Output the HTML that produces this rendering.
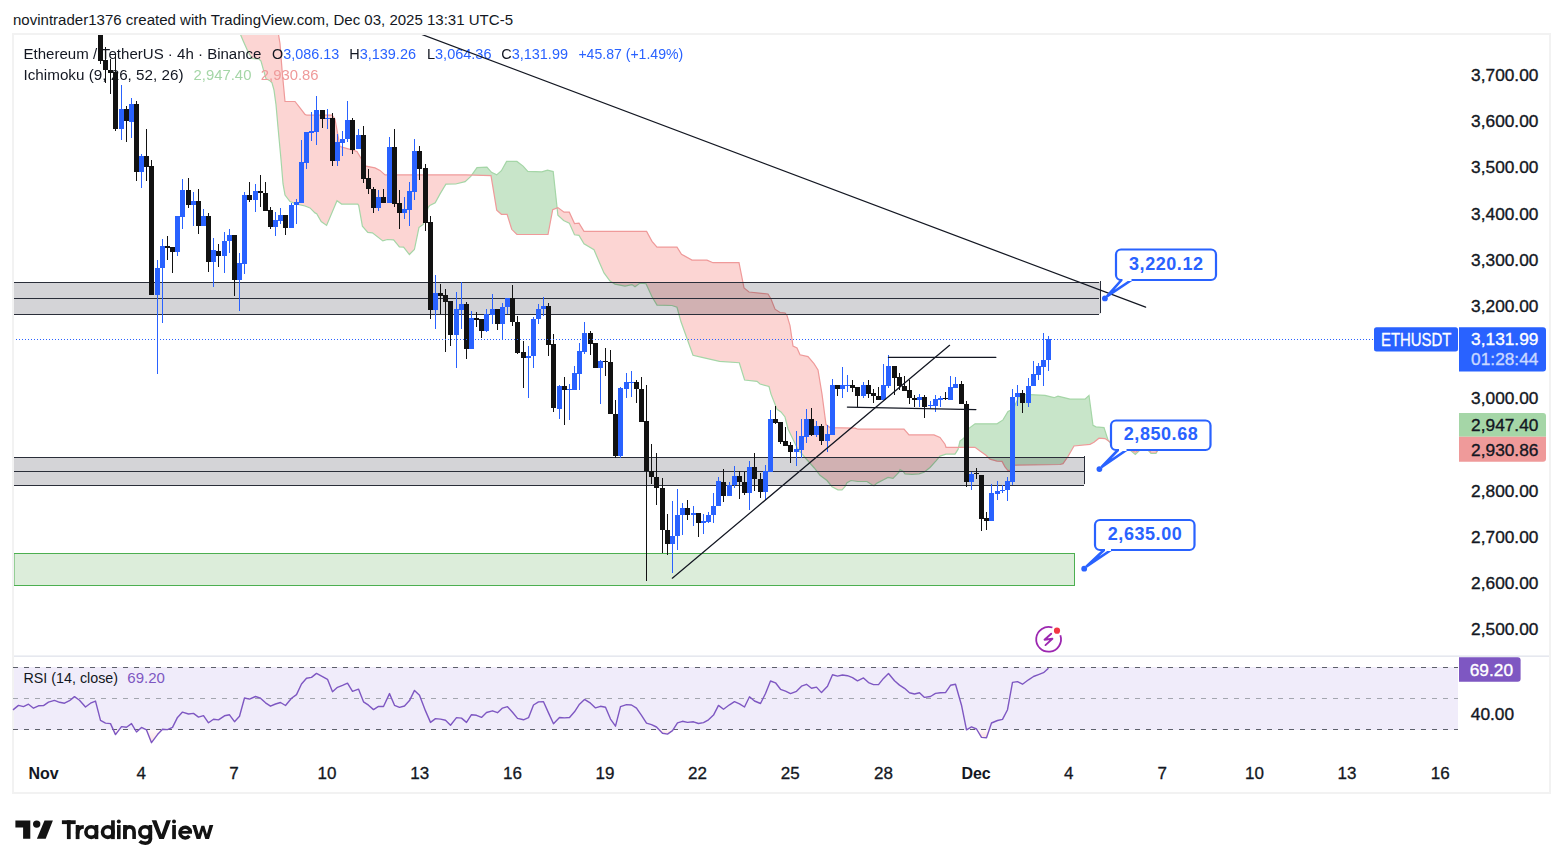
<!DOCTYPE html>
<html><head><meta charset="utf-8"><style>
html,body{margin:0;padding:0;background:#fff;width:1563px;height:868px;overflow:hidden}
svg{display:block}
text{font-family:"Liberation Sans",sans-serif}
</style></head><body>
<svg width="1563" height="868" viewBox="0 0 1563 868">
<rect x="0" y="0" width="1563" height="868" fill="#ffffff"/>
<text x="13" y="25" font-size="15.5" fill="#131722" textLength="500" lengthAdjust="spacingAndGlyphs">novintrader1376 created with TradingView.com, Dec 03, 2025 13:31 UTC-5</text>
<rect x="13" y="34" width="1537" height="759" fill="none" stroke="#f2f2f2" stroke-width="2"/>

<defs><linearGradient id="osg" x1="0" y1="0" x2="0" y2="1"><stop offset="0" stop-color="#f23645" stop-opacity="0.02"/><stop offset="1" stop-color="#f23645" stop-opacity="0.16"/></linearGradient><clipPath id="pane"><rect x="14" y="35" width="1444.5" height="621"/></clipPath></defs>
<g clip-path="url(#pane)">
<polygon points="240.5,34.5 241.0,34.5 241.0,35.7 240.5,34.5" fill="#c8e5c9"/>
<polygon points="241.0,34.5 241.5,34.5 242.0,34.5 242.5,34.5 243.0,34.5 243.5,34.5 244.0,34.5 244.5,34.5 245.0,34.5 245.5,34.5 246.0,34.5 246.5,34.5 247.0,34.5 247.5,34.5 248.0,34.5 248.5,34.5 249.0,34.5 249.5,34.5 250.0,34.5 250.5,34.5 251.0,34.5 251.5,34.5 252.0,34.5 252.5,34.5 253.0,34.5 253.5,34.5 254.0,34.5 254.5,34.5 255.0,34.5 255.5,34.5 256.0,34.5 256.5,34.5 257.0,34.5 257.5,34.5 258.0,34.5 258.5,34.5 259.0,34.5 259.5,34.5 260.0,34.5 260.5,34.5 261.0,34.5 261.5,34.5 262.0,34.5 262.5,34.5 263.0,34.5 263.5,34.5 264.0,34.5 264.5,34.5 265.0,34.5 265.5,34.5 266.0,34.5 266.5,34.5 267.0,34.5 267.5,34.5 268.0,34.5 268.5,34.5 269.0,34.5 269.5,34.5 270.0,34.5 270.5,34.5 271.0,34.5 271.5,34.5 272.0,34.5 272.5,34.5 273.0,34.5 273.5,34.5 274.0,34.5 274.5,34.5 275.0,34.5 275.5,34.5 276.0,34.5 276.5,34.5 277.0,34.5 277.5,34.5 278.0,34.5 278.5,34.5 279.0,37.5 279.5,40.5 280.0,43.5 280.5,50.0 281.0,56.5 281.5,62.9 282.0,69.4 282.5,74.8 283.0,80.1 283.5,85.5 284.0,90.8 284.5,96.2 285.0,101.5 285.5,101.5 286.0,101.5 286.5,101.5 287.0,101.5 287.5,101.5 288.0,101.5 288.5,101.5 289.0,101.5 289.5,101.5 290.0,101.5 290.5,101.5 291.0,101.5 291.5,101.5 292.0,101.5 292.5,101.5 293.0,101.5 293.5,101.5 294.0,101.5 294.5,101.5 295.0,101.5 295.5,102.1 296.0,102.8 296.5,103.4 297.0,104.1 297.5,104.7 298.0,105.3 298.5,106.0 299.0,106.6 299.5,107.3 300.0,107.9 300.5,108.6 301.0,109.2 301.5,109.9 302.0,110.5 302.5,111.2 303.0,111.8 303.5,112.5 304.0,113.1 304.5,113.8 305.0,114.4 305.5,114.6 306.0,114.8 306.5,115.0 307.0,115.2 307.5,115.2 308.0,115.2 308.5,115.2 309.0,115.2 309.5,115.2 310.0,115.2 310.5,115.2 311.0,115.2 311.5,115.2 312.0,115.2 312.5,115.2 313.0,115.2 313.5,115.2 314.0,115.2 314.5,115.2 315.0,115.2 315.5,115.2 316.0,115.2 316.5,115.2 317.0,115.2 317.5,115.2 318.0,115.2 318.5,115.2 319.0,115.2 319.5,115.2 320.0,115.2 320.5,115.2 321.0,115.2 321.5,115.2 322.0,115.2 322.5,115.2 323.0,115.2 323.5,115.2 324.0,115.2 324.5,115.2 325.0,115.2 325.5,115.2 326.0,115.2 326.5,115.2 327.0,115.2 327.5,115.2 328.0,115.2 328.5,115.2 329.0,115.2 329.5,115.2 330.0,115.2 330.5,115.2 331.0,115.2 331.5,115.2 332.0,115.2 332.5,115.9 333.0,116.5 333.5,117.2 334.0,117.9 334.5,118.5 335.0,119.2 335.5,121.9 336.0,124.7 336.5,127.4 337.0,130.2 337.5,132.9 338.0,135.6 338.5,138.4 339.0,141.1 339.5,143.9 340.0,146.6 340.5,146.7 341.0,146.9 341.5,147.0 342.0,147.2 342.5,147.3 343.0,147.4 343.5,147.6 344.0,147.7 344.5,147.9 345.0,148.0 345.5,148.1 346.0,148.3 346.5,148.4 347.0,148.6 347.5,148.7 348.0,148.8 348.5,149.0 349.0,149.1 349.5,149.3 350.0,149.4 350.5,149.6 351.0,149.7 351.5,149.8 352.0,150.0 352.5,150.2 353.0,150.3 353.5,150.4 354.0,150.6 354.5,150.8 355.0,150.9 355.5,151.1 356.0,151.2 356.5,151.3 357.0,151.5 357.5,152.3 358.0,153.2 358.5,154.1 359.0,154.9 359.5,155.8 360.0,156.6 360.5,157.4 361.0,158.3 361.5,159.2 362.0,160.0 362.5,160.8 363.0,161.5 363.5,162.3 364.0,163.1 364.5,163.8 365.0,164.6 365.5,165.3 366.0,166.1 366.5,166.2 367.0,166.3 367.5,166.4 368.0,166.5 368.5,166.6 369.0,166.7 369.5,166.8 370.0,166.9 370.5,167.0 371.0,167.1 371.5,167.2 372.0,167.3 372.5,167.4 373.0,167.5 373.5,167.6 374.0,167.7 374.5,167.8 375.0,167.9 375.5,168.2 376.0,168.4 376.5,168.7 377.0,168.9 377.5,169.2 378.0,169.4 378.5,169.7 379.0,169.9 379.5,170.2 380.0,170.4 380.5,170.8 381.0,171.3 381.5,171.8 382.0,172.2 382.5,172.7 383.0,173.1 383.5,173.6 384.0,174.0 384.5,174.5 385.0,174.9 385.5,174.9 386.0,174.9 386.5,174.9 387.0,174.9 387.5,174.9 388.0,174.9 388.5,174.9 389.0,174.9 389.5,174.9 390.0,174.9 390.5,174.9 391.0,174.9 391.5,174.9 392.0,174.9 392.5,174.9 393.0,174.9 393.5,174.9 394.0,174.9 394.5,174.9 395.0,174.9 395.5,174.9 396.0,174.9 396.5,174.9 397.0,174.9 397.5,174.9 398.0,174.9 398.5,174.9 399.0,174.9 399.5,174.9 400.0,174.9 400.5,174.9 401.0,174.9 401.5,174.9 402.0,174.9 402.5,174.9 403.0,174.9 403.5,174.9 404.0,174.9 404.5,174.9 405.0,174.9 405.5,174.9 406.0,174.9 406.5,174.9 407.0,174.9 407.5,174.9 408.0,174.9 408.5,174.9 409.0,174.9 409.5,174.9 410.0,174.9 410.5,174.9 411.0,174.9 411.5,174.9 412.0,174.9 412.5,174.9 413.0,174.9 413.5,174.9 414.0,174.9 414.5,174.9 415.0,174.9 415.5,174.9 416.0,174.9 416.5,174.9 417.0,174.9 417.5,174.9 418.0,174.9 418.5,174.9 419.0,174.9 419.5,174.9 420.0,174.9 420.5,174.9 421.0,174.9 421.5,174.9 422.0,174.9 422.5,174.9 423.0,174.9 423.5,174.9 424.0,174.9 424.5,174.9 425.0,174.9 425.5,174.9 426.0,174.9 426.5,174.9 427.0,174.9 427.5,174.9 428.0,174.9 428.5,174.9 429.0,174.9 429.5,174.9 430.0,174.9 430.5,174.9 431.0,174.9 431.5,174.9 432.0,174.9 432.5,174.9 433.0,174.9 433.5,174.9 434.0,174.9 434.5,174.9 435.0,174.9 435.5,174.9 436.0,174.9 436.5,174.9 437.0,174.9 437.5,174.9 438.0,174.9 438.5,174.9 439.0,174.9 439.5,174.9 440.0,174.9 440.5,174.9 441.0,174.9 441.5,174.9 442.0,174.9 442.5,174.9 443.0,174.9 443.5,174.9 444.0,174.9 444.5,174.9 445.0,174.9 445.5,174.9 446.0,174.9 446.5,174.9 447.0,174.9 447.5,174.9 448.0,174.9 448.5,174.9 449.0,174.9 449.5,174.9 450.0,174.9 450.5,174.9 451.0,174.9 451.5,174.9 452.0,174.9 452.5,174.9 453.0,174.9 453.5,174.9 454.0,174.9 454.5,174.9 455.0,174.9 455.5,174.9 456.0,174.9 456.5,174.9 457.0,174.9 457.5,174.9 458.0,174.9 458.5,174.9 459.0,174.9 459.5,174.9 460.0,174.9 460.5,174.9 461.0,174.9 461.5,174.9 462.0,174.9 462.5,174.9 463.0,174.9 463.5,174.9 464.0,174.9 464.5,174.9 465.0,174.9 465.5,174.9 466.0,174.9 466.5,174.9 467.0,174.9 467.5,174.9 468.0,175.0 468.5,175.0 469.0,175.0 469.5,175.0 470.0,175.0 470.5,175.0 471.0,175.1 471.5,175.1 472.0,174.7 472.0,175.1 471.5,175.4 471.0,176.1 470.5,176.7 470.0,177.1 469.5,177.6 469.0,178.0 468.5,178.5 468.0,179.0 467.5,179.4 467.0,179.9 466.5,180.3 466.0,180.8 465.5,181.2 465.0,181.6 464.5,181.8 464.0,181.9 463.5,182.0 463.0,182.1 462.5,182.3 462.0,182.4 461.5,182.5 461.0,182.6 460.5,182.8 460.0,182.9 459.5,183.0 459.0,183.2 458.5,183.3 458.0,183.4 457.5,183.5 457.0,183.7 456.5,183.8 456.0,183.9 455.5,184.0 455.0,184.0 454.5,184.0 454.0,184.0 453.5,184.0 453.0,184.1 452.5,184.1 452.0,184.1 451.5,184.1 451.0,184.1 450.5,184.1 450.0,184.1 449.5,184.1 449.0,184.1 448.5,184.1 448.0,184.2 447.5,184.2 447.0,184.2 446.5,184.2 446.0,184.2 445.5,184.9 445.0,185.7 444.5,186.5 444.0,187.3 443.5,188.2 443.0,189.0 442.5,189.8 442.0,190.6 441.5,191.5 441.0,192.3 440.5,193.1 440.0,194.0 439.5,194.9 439.0,195.8 438.5,196.8 438.0,197.7 437.5,198.6 437.0,199.6 436.5,200.5 436.0,201.4 435.5,202.3 435.0,203.0 434.5,203.2 434.0,203.5 433.5,203.7 433.0,203.9 432.5,204.2 432.0,204.4 431.5,204.6 431.0,204.8 430.5,205.1 430.0,205.3 429.5,205.8 429.0,206.4 428.5,207.0 428.0,207.8 427.5,209.6 427.0,211.3 426.5,213.1 426.0,214.8 425.5,216.5 425.0,218.3 424.5,220.0 424.0,221.7 423.5,223.5 423.0,224.6 422.5,225.0 422.0,225.3 421.5,225.7 421.0,226.0 420.5,226.4 420.0,226.7 419.5,227.1 419.0,227.4 418.5,229.8 418.0,232.2 417.5,234.6 417.0,237.0 416.5,239.4 416.0,241.8 415.5,244.2 415.0,246.6 414.5,249.0 414.0,249.9 413.5,250.4 413.0,250.9 412.5,251.4 412.0,251.9 411.5,252.4 411.0,252.9 410.5,253.4 410.0,253.9 409.5,254.4 409.0,254.0 408.5,253.4 408.0,252.7 407.5,252.1 407.0,251.5 406.5,250.8 406.0,250.2 405.5,249.6 405.0,249.0 404.5,248.3 404.0,247.7 403.5,247.2 403.0,247.2 402.5,247.1 402.0,247.1 401.5,247.1 401.0,247.1 400.5,247.1 400.0,247.0 399.5,247.0 399.0,246.5 398.5,245.9 398.0,245.3 397.5,244.7 397.0,244.1 396.5,243.4 396.0,242.8 395.5,242.2 395.0,241.6 394.5,241.0 394.0,240.4 393.5,239.9 393.0,239.9 392.5,239.8 392.0,239.8 391.5,239.8 391.0,239.7 390.5,239.7 390.0,239.7 389.5,239.6 389.0,239.6 388.5,239.6 388.0,239.5 387.5,239.5 387.0,239.6 386.5,239.8 386.0,239.9 385.5,240.1 385.0,240.2 384.5,240.4 384.0,240.5 383.5,240.7 383.0,240.8 382.5,240.7 382.0,240.3 381.5,239.9 381.0,239.5 380.5,239.1 380.0,238.7 379.5,238.3 379.0,237.9 378.5,237.6 378.0,237.2 377.5,236.8 377.0,236.4 376.5,236.0 376.0,235.6 375.5,235.2 375.0,234.8 374.5,234.4 374.0,234.0 373.5,233.7 373.0,233.3 372.5,232.9 372.0,232.8 371.5,232.7 371.0,232.7 370.5,232.6 370.0,232.6 369.5,232.5 369.0,232.5 368.5,232.5 368.0,232.4 367.5,232.1 367.0,231.5 366.5,230.9 366.0,230.3 365.5,229.8 365.0,229.2 364.5,228.6 364.0,228.0 363.5,227.5 363.0,226.9 362.5,226.3 362.0,224.0 361.5,221.1 361.0,218.3 360.5,215.5 360.0,212.7 359.5,209.9 359.0,207.1 358.5,205.1 358.0,204.4 357.5,204.1 357.0,204.1 356.5,204.1 356.0,204.1 355.5,204.1 355.0,204.1 354.5,204.1 354.0,204.1 353.5,204.1 353.0,204.1 352.5,204.1 352.0,204.1 351.5,204.1 351.0,204.1 350.5,204.1 350.0,204.1 349.5,204.1 349.0,204.1 348.5,204.1 348.0,204.1 347.5,204.1 347.0,204.1 346.5,204.1 346.0,204.1 345.5,204.1 345.0,204.1 344.5,204.1 344.0,204.1 343.5,204.1 343.0,204.1 342.5,204.1 342.0,204.1 341.5,204.0 341.0,203.7 340.5,203.3 340.0,203.0 339.5,202.6 339.0,202.2 338.5,201.9 338.0,201.5 337.5,201.2 337.0,200.8 336.5,202.0 336.0,203.2 335.5,204.3 335.0,205.5 334.5,206.7 334.0,207.9 333.5,209.1 333.0,210.3 332.5,211.4 332.0,212.6 331.5,213.8 331.0,215.0 330.5,216.2 330.0,217.4 329.5,218.5 329.0,219.7 328.5,220.9 328.0,222.1 327.5,223.3 327.0,224.5 326.5,225.3 326.0,225.0 325.5,224.6 325.0,224.3 324.5,223.9 324.0,223.6 323.5,223.2 323.0,222.9 322.5,222.5 322.0,222.2 321.5,221.8 321.0,221.2 320.5,220.4 320.0,219.5 319.5,218.6 319.0,217.7 318.5,216.9 318.0,216.0 317.5,215.1 317.0,214.2 316.5,213.6 316.0,213.4 315.5,213.1 315.0,212.9 314.5,212.4 314.0,211.9 313.5,211.4 313.0,210.9 312.5,210.4 312.0,209.9 311.5,209.4 311.0,208.9 310.5,208.4 310.0,207.9 309.5,207.7 309.0,207.5 308.5,207.3 308.0,207.1 307.5,206.9 307.0,206.8 306.5,206.6 306.0,206.4 305.5,206.2 305.0,206.0 304.5,205.9 304.0,205.8 303.5,205.7 303.0,205.5 302.5,205.4 302.0,205.3 301.5,205.2 301.0,205.1 300.5,204.9 300.0,204.8 299.5,204.7 299.0,204.6 298.5,204.5 298.0,204.4 297.5,204.2 297.0,204.1 296.5,204.0 296.0,203.9 295.5,203.7 295.0,203.5 294.5,203.3 294.0,203.1 293.5,202.9 293.0,202.7 292.5,202.5 292.0,202.3 291.5,202.1 291.0,201.9 290.5,201.7 290.0,201.5 289.5,200.8 289.0,200.2 288.5,199.6 288.0,198.9 287.5,198.2 287.0,197.6 286.5,196.9 286.0,196.3 285.5,195.7 285.0,195.0 284.5,192.2 284.0,189.3 283.5,186.5 283.0,183.7 282.5,177.6 282.0,171.6 281.5,165.6 281.0,159.5 280.5,154.1 280.0,148.8 279.5,143.4 279.0,138.0 278.5,132.7 278.0,127.3 277.5,121.7 277.0,116.0 276.5,110.3 276.0,104.7 275.5,101.0 275.0,97.4 274.5,93.8 274.0,90.1 273.5,88.3 273.0,86.4 272.5,84.6 272.0,82.8 271.5,82.3 271.0,81.8 270.5,81.3 270.0,80.8 269.5,80.5 269.0,80.3 268.5,80.0 268.0,79.8 267.5,79.5 267.0,79.2 266.5,79.0 266.0,78.7 265.5,77.0 265.0,75.2 264.5,73.5 264.0,71.8 263.5,70.0 263.0,68.3 262.5,66.5 262.0,64.7 261.5,62.9 261.0,61.1 260.5,60.6 260.0,60.0 259.5,59.5 259.0,59.0 258.5,59.0 258.0,58.9 257.5,58.9 257.0,58.9 256.5,58.8 256.0,58.8 255.5,58.8 255.0,58.7 254.5,58.7 254.0,58.6 253.5,58.6 253.0,58.6 252.5,58.5 252.0,58.5 251.5,57.7 251.0,56.8 250.5,56.0 250.0,55.1 249.5,54.3 249.0,53.5 248.5,52.6 248.0,51.8 247.5,50.7 247.0,49.5 246.5,48.4 246.0,47.2 245.5,46.1 245.0,45.0 244.5,43.8 244.0,42.7 243.5,41.5 243.0,40.4 242.5,39.2 242.0,38.0 241.5,36.9 241.0,35.7" fill="#fcd5d3"/>
<polygon points="472.0,174.7 472.5,174.0 473.0,173.3 473.5,172.6 474.0,171.9 474.5,171.1 475.0,170.4 475.5,169.7 476.0,169.0 476.5,168.3 477.0,167.6 477.5,167.6 478.0,167.5 478.5,167.5 479.0,167.5 479.5,167.5 480.0,167.4 480.5,167.4 481.0,167.4 481.5,167.4 482.0,167.3 482.5,167.3 483.0,167.3 483.5,167.3 484.0,167.2 484.5,167.2 485.0,167.2 485.5,167.2 486.0,167.1 486.5,167.1 487.0,167.2 487.5,167.8 488.0,168.3 488.5,168.9 489.0,169.5 489.5,170.0 490.0,170.6 490.5,171.2 491.0,171.7 491.5,172.3 492.0,172.6 492.5,172.8 493.0,173.1 493.5,173.3 494.0,173.6 494.5,173.8 495.0,174.1 495.5,174.3 496.0,174.6 496.5,174.8 497.0,174.6 497.5,174.2 498.0,173.7 498.5,173.3 499.0,172.8 499.5,172.4 500.0,172.0 500.5,171.5 501.0,171.1 501.5,170.5 502.0,169.6 502.5,168.7 503.0,167.8 503.5,166.9 504.0,166.1 504.5,165.2 505.0,164.3 505.5,163.4 506.0,162.5 506.5,161.6 507.0,161.4 507.5,161.4 508.0,161.4 508.5,161.4 509.0,161.4 509.5,161.4 510.0,161.4 510.5,161.4 511.0,161.4 511.5,161.4 512.0,161.4 512.5,161.4 513.0,161.4 513.5,161.4 514.0,161.4 514.5,161.4 515.0,161.4 515.5,161.4 516.0,161.4 516.5,161.4 517.0,161.5 517.5,161.9 518.0,162.2 518.5,162.6 519.0,163.0 519.5,163.4 520.0,163.8 520.5,164.1 521.0,164.5 521.5,164.9 522.0,165.3 522.5,165.6 523.0,166.0 523.5,166.5 524.0,167.1 524.5,167.6 525.0,168.2 525.5,168.8 526.0,169.3 526.5,169.9 527.0,170.4 527.5,171.0 528.0,171.3 528.5,171.3 529.0,171.3 529.5,171.4 530.0,171.4 530.5,171.4 531.0,171.4 531.5,171.4 532.0,171.5 532.5,171.5 533.0,171.5 533.5,171.5 534.0,171.5 534.5,171.5 535.0,171.6 535.5,171.6 536.0,171.6 536.5,171.6 537.0,171.6 537.5,171.6 538.0,171.7 538.5,171.7 539.0,171.7 539.5,171.7 540.0,171.7 540.5,171.8 541.0,171.8 541.5,171.8 542.0,171.7 542.5,171.6 543.0,171.5 543.5,171.3 544.0,171.2 544.5,171.0 545.0,170.9 545.5,170.8 546.0,170.6 546.5,170.5 547.0,170.3 547.5,170.2 548.0,170.3 548.5,170.4 549.0,170.6 549.5,170.7 550.0,170.8 550.5,170.9 551.0,171.1 551.5,171.2 552.0,171.3 552.5,171.4 553.0,171.6 553.5,174.4 554.0,179.0 554.5,183.7 555.0,188.3 555.5,193.0 556.0,197.6 556.5,202.3 557.0,206.9 557.5,207.8 557.5,211.6 557.0,207.9 556.5,208.1 556.0,208.3 555.5,208.5 555.0,208.7 554.5,208.9 554.0,209.1 553.5,209.3 553.0,209.5 552.5,210.7 552.0,213.3 551.5,216.0 551.0,218.6 550.5,221.3 550.0,223.9 549.5,226.6 549.0,229.2 548.5,231.9 548.0,234.5 547.5,234.5 547.0,234.5 546.5,234.5 546.0,234.5 545.5,234.5 545.0,234.5 544.5,234.5 544.0,234.5 543.5,234.5 543.0,234.5 542.5,234.5 542.0,234.5 541.5,234.5 541.0,234.5 540.5,234.5 540.0,234.5 539.5,234.5 539.0,234.5 538.5,234.5 538.0,234.5 537.5,234.5 537.0,234.5 536.5,234.5 536.0,234.5 535.5,234.5 535.0,234.5 534.5,234.5 534.0,234.5 533.5,234.5 533.0,234.5 532.5,234.5 532.0,234.5 531.5,234.5 531.0,234.5 530.5,234.5 530.0,234.5 529.5,234.5 529.0,234.5 528.5,234.5 528.0,234.5 527.5,234.5 527.0,234.5 526.5,234.5 526.0,234.5 525.5,234.5 525.0,234.5 524.5,234.5 524.0,234.5 523.5,234.5 523.0,234.5 522.5,234.5 522.0,234.5 521.5,234.5 521.0,234.5 520.5,234.5 520.0,234.5 519.5,234.5 519.0,234.5 518.5,234.5 518.0,234.5 517.5,234.5 517.0,234.5 516.5,234.1 516.0,233.6 515.5,233.1 515.0,232.6 514.5,232.1 514.0,231.6 513.5,231.1 513.0,230.6 512.5,230.1 512.0,229.6 511.5,228.6 511.0,227.0 510.5,225.4 510.0,223.8 509.5,222.1 509.0,220.5 508.5,218.9 508.0,217.2 507.5,215.6 507.0,214.3 506.5,214.3 506.0,214.3 505.5,214.3 505.0,214.3 504.5,214.3 504.0,214.3 503.5,214.3 503.0,214.3 502.5,214.3 502.0,214.3 501.5,214.3 501.0,213.9 500.5,213.5 500.0,213.0 499.5,212.6 499.0,212.2 498.5,211.7 498.0,211.3 497.5,210.8 497.0,210.4 496.5,208.9 496.0,205.9 495.5,202.9 495.0,199.8 494.5,196.8 494.0,193.8 493.5,190.8 493.0,187.8 492.5,184.8 492.0,181.7 491.5,178.7 491.0,175.7 490.5,175.7 490.0,175.7 489.5,175.7 489.0,175.6 488.5,175.6 488.0,175.6 487.5,175.6 487.0,175.6 486.5,175.6 486.0,175.5 485.5,175.5 485.0,175.5 484.5,175.5 484.0,175.5 483.5,175.5 483.0,175.4 482.5,175.4 482.0,175.4 481.5,175.4 481.0,175.4 480.5,175.4 480.0,175.3 479.5,175.3 479.0,175.3 478.5,175.3 478.0,175.3 477.5,175.3 477.0,175.3 476.5,175.2 476.0,175.2 475.5,175.2 475.0,175.2 474.5,175.2 474.0,175.2 473.5,175.1 473.0,175.1 472.5,175.1 472.0,175.1" fill="#c8e5c9"/>
<polygon points="557.5,207.8 558.0,207.7 558.5,208.0 559.0,208.4 559.5,208.8 560.0,209.2 560.5,209.5 561.0,209.9 561.5,210.3 562.0,210.6 562.5,211.0 563.0,211.4 563.5,211.8 564.0,212.1 564.5,212.2 565.0,212.2 565.5,212.2 566.0,212.2 566.5,212.2 567.0,212.2 567.5,212.2 568.0,212.2 568.5,212.2 569.0,212.2 569.5,212.6 570.0,213.7 570.5,214.8 571.0,215.9 571.5,217.0 572.0,218.1 572.5,219.2 573.0,220.3 573.5,221.4 574.0,222.5 574.5,223.6 575.0,223.6 575.5,223.5 576.0,223.5 576.5,223.4 577.0,223.4 577.5,223.3 578.0,223.3 578.5,223.2 579.0,223.2 579.5,224.0 580.0,224.8 580.5,225.7 581.0,226.5 581.5,227.3 582.0,228.1 582.5,228.9 583.0,229.8 583.5,230.6 584.0,231.4 584.5,231.4 585.0,231.4 585.5,231.4 586.0,231.4 586.5,231.4 587.0,231.4 587.5,231.4 588.0,231.4 588.5,231.4 589.0,231.4 589.5,231.4 590.0,231.4 590.5,231.4 591.0,231.4 591.5,231.4 592.0,231.4 592.5,231.4 593.0,231.4 593.5,231.4 594.0,231.4 594.5,231.4 595.0,231.4 595.5,231.4 596.0,231.4 596.5,231.4 597.0,231.4 597.5,231.4 598.0,231.4 598.5,231.4 599.0,231.4 599.5,231.4 600.0,231.4 600.5,231.4 601.0,231.4 601.5,231.4 602.0,231.4 602.5,231.4 603.0,231.4 603.5,231.4 604.0,231.4 604.5,231.4 605.0,231.4 605.5,231.4 606.0,231.4 606.5,231.4 607.0,231.4 607.5,231.4 608.0,231.4 608.5,231.4 609.0,231.4 609.5,231.4 610.0,231.4 610.5,231.4 611.0,231.4 611.5,231.4 612.0,231.4 612.5,231.4 613.0,231.4 613.5,231.4 614.0,231.4 614.5,231.4 615.0,231.4 615.5,231.4 616.0,231.4 616.5,231.4 617.0,231.4 617.5,231.4 618.0,231.4 618.5,231.4 619.0,231.4 619.5,231.4 620.0,231.4 620.5,231.4 621.0,231.4 621.5,231.4 622.0,231.4 622.5,231.4 623.0,231.4 623.5,231.4 624.0,231.4 624.5,231.4 625.0,231.4 625.5,231.4 626.0,231.4 626.5,231.4 627.0,231.4 627.5,231.4 628.0,231.4 628.5,231.4 629.0,231.4 629.5,231.4 630.0,231.4 630.5,231.4 631.0,231.4 631.5,231.4 632.0,231.4 632.5,231.4 633.0,231.4 633.5,231.4 634.0,231.4 634.5,231.4 635.0,231.4 635.5,231.4 636.0,231.4 636.5,231.4 637.0,231.4 637.5,231.4 638.0,231.4 638.5,231.4 639.0,231.4 639.5,231.4 640.0,231.4 640.5,231.4 641.0,231.4 641.5,231.4 642.0,231.4 642.5,231.4 643.0,231.4 643.5,231.4 644.0,231.4 644.5,231.4 645.0,231.4 645.5,231.4 646.0,231.4 646.5,231.4 647.0,232.1 647.5,233.1 648.0,234.0 648.5,234.9 649.0,235.8 649.5,236.8 650.0,237.7 650.5,238.6 651.0,239.5 651.5,240.5 652.0,241.4 652.5,242.0 653.0,242.5 653.5,243.1 654.0,243.7 654.5,244.2 655.0,244.8 655.5,245.4 656.0,246.0 656.5,246.5 657.0,247.1 657.5,247.1 658.0,247.1 658.5,247.1 659.0,247.1 659.5,247.1 660.0,247.1 660.5,247.1 661.0,247.1 661.5,247.1 662.0,247.1 662.5,247.1 663.0,247.1 663.5,247.1 664.0,247.1 664.5,247.1 665.0,247.1 665.5,247.1 666.0,247.1 666.5,247.1 667.0,247.1 667.5,247.1 668.0,247.1 668.5,247.1 669.0,247.1 669.5,247.1 670.0,247.1 670.5,247.1 671.0,247.1 671.5,247.1 672.0,247.1 672.5,247.1 673.0,247.1 673.5,247.1 674.0,247.1 674.5,247.1 675.0,247.1 675.5,247.1 676.0,247.1 676.5,247.1 677.0,247.1 677.5,247.9 678.0,248.7 678.5,249.5 679.0,250.3 679.5,251.0 680.0,251.8 680.5,252.6 681.0,253.4 681.5,254.2 682.0,254.5 682.5,254.8 683.0,255.0 683.5,255.3 684.0,255.6 684.5,255.9 685.0,256.2 685.5,256.4 686.0,256.7 686.5,257.0 687.0,257.3 687.5,257.6 688.0,257.9 688.5,258.1 689.0,258.4 689.5,258.7 690.0,259.0 690.5,259.3 691.0,259.5 691.5,259.8 692.0,260.1 692.5,260.1 693.0,260.1 693.5,260.1 694.0,260.1 694.5,260.1 695.0,260.1 695.5,260.1 696.0,260.1 696.5,260.1 697.0,260.1 697.5,260.1 698.0,260.1 698.5,260.1 699.0,260.1 699.5,260.1 700.0,260.1 700.5,260.1 701.0,260.1 701.5,260.1 702.0,260.1 702.5,260.1 703.0,260.1 703.5,260.1 704.0,260.1 704.5,260.1 705.0,260.1 705.5,260.1 706.0,260.1 706.5,260.1 707.0,260.1 707.5,260.3 708.0,260.5 708.5,260.8 709.0,261.0 709.5,261.2 710.0,261.4 710.5,261.6 711.0,261.8 711.5,262.1 712.0,262.3 712.5,262.5 713.0,262.7 713.5,262.7 714.0,262.7 714.5,262.7 715.0,262.7 715.5,262.7 716.0,262.7 716.5,262.7 717.0,262.7 717.5,262.7 718.0,262.7 718.5,262.7 719.0,262.7 719.5,262.7 720.0,262.7 720.5,262.7 721.0,262.7 721.5,262.7 722.0,262.7 722.5,262.7 723.0,262.7 723.5,262.7 724.0,262.7 724.5,262.7 725.0,262.7 725.5,262.7 726.0,262.7 726.5,262.7 727.0,262.7 727.5,262.7 728.0,262.7 728.5,262.7 729.0,262.7 729.5,262.7 730.0,262.7 730.5,262.7 731.0,262.7 731.5,262.7 732.0,262.7 732.5,262.7 733.0,262.7 733.5,262.7 734.0,262.7 734.5,262.7 735.0,262.7 735.5,262.7 736.0,262.7 736.5,262.7 737.0,262.7 737.5,262.7 738.0,262.7 738.5,262.7 739.0,262.7 739.5,265.2 740.0,267.7 740.5,270.3 741.0,272.8 741.5,275.3 742.0,277.8 742.5,280.3 743.0,282.9 743.5,285.4 744.0,287.9 744.5,288.3 745.0,288.7 745.5,289.1 746.0,289.5 746.5,289.9 747.0,290.4 747.5,290.8 748.0,291.2 748.5,291.6 749.0,292.0 749.5,292.1 750.0,292.1 750.5,292.2 751.0,292.2 751.5,292.3 752.0,292.3 752.5,292.4 753.0,292.4 753.5,292.5 754.0,292.5 754.5,292.6 755.0,292.6 755.5,292.7 756.0,292.7 756.5,292.8 757.0,292.8 757.5,292.9 758.0,292.9 758.5,293.0 759.0,293.1 759.5,293.1 760.0,293.2 760.5,293.2 761.0,293.3 761.5,293.3 762.0,293.4 762.5,293.4 763.0,293.5 763.5,293.5 764.0,293.6 764.5,293.6 765.0,293.7 765.5,293.7 766.0,293.8 766.5,293.8 767.0,293.9 767.5,293.9 768.0,294.0 768.5,294.8 769.0,295.7 769.5,296.5 770.0,297.3 770.5,298.2 771.0,299.0 771.5,300.3 772.0,301.6 772.5,302.8 773.0,304.1 773.5,305.4 774.0,306.6 774.5,307.9 775.0,309.2 775.5,309.5 776.0,309.9 776.5,310.2 777.0,310.5 777.5,310.9 778.0,311.2 778.5,311.5 779.0,311.8 779.5,312.2 780.0,312.5 780.5,312.6 781.0,312.6 781.5,312.6 782.0,312.7 782.5,312.8 783.0,312.8 783.5,312.9 784.0,312.9 784.5,312.9 785.0,313.0 785.5,313.6 786.0,314.2 786.5,314.9 787.0,315.5 787.5,317.2 788.0,318.9 788.5,320.6 789.0,322.2 789.5,323.9 790.0,325.6 790.5,329.0 791.0,332.4 791.5,335.8 792.0,339.2 792.5,342.6 793.0,346.0 793.5,346.2 794.0,346.5 794.5,346.8 795.0,347.0 795.5,347.2 796.0,347.5 796.5,347.8 797.0,348.0 797.5,349.1 798.0,350.3 798.5,351.4 799.0,352.5 799.5,353.7 800.0,354.8 800.5,354.9 801.0,355.0 801.5,355.1 802.0,355.2 802.5,355.4 803.0,355.5 803.5,355.6 804.0,355.7 804.5,355.8 805.0,355.9 805.5,356.0 806.0,356.2 806.5,356.3 807.0,356.4 807.5,356.5 808.0,356.6 808.5,357.2 809.0,357.8 809.5,358.4 810.0,359.0 810.5,359.6 811.0,360.1 811.5,360.7 812.0,361.3 812.5,361.9 813.0,362.5 813.5,363.1 814.0,363.7 814.5,364.5 815.0,365.3 815.5,366.1 816.0,366.9 816.5,367.6 817.0,368.4 817.5,369.2 818.0,370.0 818.5,373.0 819.0,376.0 819.5,379.0 820.0,382.1 820.5,385.1 821.0,388.1 821.5,391.1 822.0,394.1 822.5,397.9 823.0,401.7 823.5,405.5 824.0,409.4 824.5,413.2 825.0,417.0 825.5,420.8 826.0,424.6 826.5,425.0 827.0,425.4 827.5,425.7 828.0,426.1 828.5,426.5 829.0,426.9 829.5,427.2 830.0,427.6 830.5,427.6 831.0,427.6 831.5,427.6 832.0,427.6 832.5,427.7 833.0,427.7 833.5,427.7 834.0,427.7 834.5,427.7 835.0,427.7 835.5,427.7 836.0,427.7 836.5,427.7 837.0,427.7 837.5,427.8 838.0,427.8 838.5,427.8 839.0,427.8 839.5,427.8 840.0,427.8 840.5,427.8 841.0,427.8 841.5,427.8 842.0,427.8 842.5,427.9 843.0,427.9 843.5,427.9 844.0,427.9 844.5,427.9 845.0,427.9 845.5,427.9 846.0,427.9 846.5,427.9 847.0,427.9 847.5,428.0 848.0,428.0 848.5,428.0 849.0,428.0 849.5,428.0 850.0,428.0 850.5,428.0 851.0,428.0 851.5,428.0 852.0,428.0 852.5,428.1 853.0,428.1 853.5,428.1 854.0,428.1 854.5,428.1 855.0,428.1 855.5,428.3 856.0,428.5 856.5,428.6 857.0,428.8 857.5,429.0 858.0,429.2 858.5,429.2 859.0,429.2 859.5,429.2 860.0,429.2 860.5,429.2 861.0,429.2 861.5,429.2 862.0,429.2 862.5,429.2 863.0,429.2 863.5,429.2 864.0,429.2 864.5,429.2 865.0,429.2 865.5,429.2 866.0,429.2 866.5,429.2 867.0,429.2 867.5,429.2 868.0,429.2 868.5,429.2 869.0,429.2 869.5,429.2 870.0,429.2 870.5,429.2 871.0,429.2 871.5,429.2 872.0,429.2 872.5,429.2 873.0,429.2 873.5,429.2 874.0,429.2 874.5,429.2 875.0,429.2 875.5,429.2 876.0,429.2 876.5,429.2 877.0,429.2 877.5,429.2 878.0,429.2 878.5,429.2 879.0,429.2 879.5,429.2 880.0,429.2 880.5,429.2 881.0,429.2 881.5,429.2 882.0,429.2 882.5,429.2 883.0,429.2 883.5,429.2 884.0,429.2 884.5,429.2 885.0,429.2 885.5,429.2 886.0,429.2 886.5,429.2 887.0,429.2 887.5,429.2 888.0,429.2 888.5,429.2 889.0,429.2 889.5,429.2 890.0,429.2 890.5,429.2 891.0,429.2 891.5,429.2 892.0,429.2 892.5,429.2 893.0,429.2 893.5,429.2 894.0,429.2 894.5,429.2 895.0,429.2 895.5,429.2 896.0,429.2 896.5,429.2 897.0,429.2 897.5,429.2 898.0,429.2 898.5,429.2 899.0,429.2 899.5,429.2 900.0,429.2 900.5,429.2 901.0,429.2 901.5,429.2 902.0,429.2 902.5,429.2 903.0,429.2 903.5,429.2 904.0,429.2 904.5,429.8 905.0,430.3 905.5,430.9 906.0,431.5 906.5,432.0 907.0,432.6 907.5,433.2 908.0,433.8 908.5,434.3 909.0,434.9 909.5,434.9 910.0,434.9 910.5,434.9 911.0,434.9 911.5,434.9 912.0,434.9 912.5,434.9 913.0,434.9 913.5,434.9 914.0,434.9 914.5,434.9 915.0,434.9 915.5,434.9 916.0,434.9 916.5,434.9 917.0,434.9 917.5,434.9 918.0,434.9 918.5,434.9 919.0,434.9 919.5,434.9 920.0,434.9 920.5,434.9 921.0,434.9 921.5,434.9 922.0,434.9 922.5,434.9 923.0,434.9 923.5,434.9 924.0,434.9 924.5,434.9 925.0,434.9 925.5,434.9 926.0,434.9 926.5,434.9 927.0,434.9 927.5,434.9 928.0,434.9 928.5,434.9 929.0,434.9 929.5,434.9 930.0,434.9 930.5,434.9 931.0,434.9 931.5,434.9 932.0,434.9 932.5,434.9 933.0,434.9 933.5,434.9 934.0,434.9 934.5,435.1 935.0,435.3 935.5,435.5 936.0,435.8 936.5,436.0 937.0,436.2 937.5,436.4 938.0,436.6 938.5,436.9 939.0,437.1 939.5,437.3 940.0,437.5 940.5,438.2 941.0,438.8 941.5,439.5 942.0,440.2 942.5,440.9 943.0,441.5 943.5,442.2 944.0,442.9 944.5,443.5 945.0,444.2 945.5,445.8 946.0,447.3 946.5,447.3 947.0,447.3 947.5,447.3 948.0,447.3 948.5,447.3 949.0,447.3 949.5,447.3 950.0,447.3 950.5,447.3 951.0,447.3 951.5,447.3 952.0,447.3 952.5,447.3 953.0,447.3 953.5,447.3 954.0,447.3 954.5,447.3 955.0,447.3 955.5,447.3 956.0,447.3 956.5,447.3 957.0,447.3 957.5,447.3 958.0,447.3 958.5,447.3 959.0,445.2 959.0,447.3 958.5,447.3 958.0,449.4 957.5,450.2 957.0,451.0 956.5,451.8 956.0,452.5 955.5,453.3 955.0,454.1 954.5,454.1 954.0,454.1 953.5,454.1 953.0,454.1 952.5,454.1 952.0,454.1 951.5,454.1 951.0,454.1 950.5,454.1 950.0,454.1 949.5,454.1 949.0,454.1 948.5,454.1 948.0,454.1 947.5,454.1 947.0,454.1 946.5,454.1 946.0,454.1 945.5,454.3 945.0,454.4 944.5,454.6 944.0,454.8 943.5,454.9 943.0,455.1 942.5,455.3 942.0,455.4 941.5,455.6 941.0,455.8 940.5,455.9 940.0,456.1 939.5,456.7 939.0,457.3 938.5,457.9 938.0,458.5 937.5,459.0 937.0,459.6 936.5,460.2 936.0,460.8 935.5,461.4 935.0,461.9 934.5,462.5 934.0,463.0 933.5,463.6 933.0,464.1 932.5,464.7 932.0,465.3 931.5,465.8 931.0,466.4 930.5,466.9 930.0,467.5 929.5,467.9 929.0,468.3 928.5,468.7 928.0,469.1 927.5,469.5 927.0,469.9 926.5,470.2 926.0,470.6 925.5,471.0 925.0,471.4 924.5,471.8 924.0,472.2 923.5,472.4 923.0,472.5 922.5,472.7 922.0,472.8 921.5,473.0 921.0,473.2 920.5,473.3 920.0,473.5 919.5,473.6 919.0,473.8 918.5,473.8 918.0,473.9 917.5,473.9 917.0,473.9 916.5,474.0 916.0,474.0 915.5,474.1 915.0,474.1 914.5,474.1 914.0,474.2 913.5,474.2 913.0,474.2 912.5,474.3 912.0,474.3 911.5,474.3 911.0,474.2 910.5,474.2 910.0,474.2 909.5,474.1 909.0,474.1 908.5,474.1 908.0,474.0 907.5,474.0 907.0,473.9 906.5,473.9 906.0,473.9 905.5,473.8 905.0,473.8 904.5,473.1 904.0,472.5 903.5,471.9 903.0,471.2 902.5,470.9 902.0,470.7 901.5,470.4 901.0,470.1 900.5,469.9 900.0,469.6 899.5,470.9 899.0,472.2 898.5,472.7 898.0,473.2 897.5,473.8 897.0,474.3 896.5,474.8 896.0,475.3 895.5,475.8 895.0,476.3 894.5,476.8 894.0,477.4 893.5,477.9 893.0,478.4 892.5,478.3 892.0,478.2 891.5,478.1 891.0,478.0 890.5,477.9 890.0,477.8 889.5,477.7 889.0,477.6 888.5,477.5 888.0,477.4 887.5,477.7 887.0,477.9 886.5,478.2 886.0,478.4 885.5,478.7 885.0,479.0 884.5,479.2 884.0,479.5 883.5,479.8 883.0,480.0 882.5,480.3 882.0,480.5 881.5,480.8 881.0,481.0 880.5,481.3 880.0,481.6 879.5,481.8 879.0,482.1 878.5,482.3 878.0,482.6 877.5,482.8 877.0,483.1 876.5,483.5 876.0,484.0 875.5,484.4 875.0,484.8 874.5,485.3 874.0,485.7 873.5,485.4 873.0,485.2 872.5,484.9 872.0,484.7 871.5,484.4 871.0,484.1 870.5,483.7 870.0,483.4 869.5,483.1 869.0,482.8 868.5,482.5 868.0,482.1 867.5,481.8 867.0,481.5 866.5,481.5 866.0,481.5 865.5,481.5 865.0,481.5 864.5,481.5 864.0,481.5 863.5,481.5 863.0,481.5 862.5,481.5 862.0,481.5 861.5,481.5 861.0,481.5 860.5,481.5 860.0,481.5 859.5,481.5 859.0,481.5 858.5,481.5 858.0,481.5 857.5,481.4 857.0,481.4 856.5,481.3 856.0,481.2 855.5,481.1 855.0,481.1 854.5,481.0 854.0,480.9 853.5,480.9 853.0,480.8 852.5,480.7 852.0,480.6 851.5,480.6 851.0,480.5 850.5,480.8 850.0,481.0 849.5,481.3 849.0,481.6 848.5,481.8 848.0,482.1 847.5,482.3 847.0,482.6 846.5,483.6 846.0,484.6 845.5,485.7 845.0,486.7 844.5,487.2 844.0,487.7 843.5,488.2 843.0,488.8 842.5,489.3 842.0,489.8 841.5,489.8 841.0,489.8 840.5,489.8 840.0,489.8 839.5,489.8 839.0,489.8 838.5,489.8 838.0,489.8 837.5,489.5 837.0,489.3 836.5,489.0 836.0,488.8 835.5,488.5 835.0,488.2 834.5,488.0 834.0,487.7 833.5,487.5 833.0,487.2 832.5,487.0 832.0,486.7 831.5,486.1 831.0,485.5 830.5,484.8 830.0,484.2 829.5,483.6 829.0,483.0 828.5,482.4 828.0,481.7 827.5,481.1 827.0,480.5 826.5,480.1 826.0,479.8 825.5,479.4 825.0,479.0 824.5,478.6 824.0,478.3 823.5,477.9 823.0,477.5 822.5,477.2 822.0,476.8 821.5,476.4 821.0,476.0 820.5,475.7 820.0,475.3 819.5,474.7 819.0,474.0 818.5,473.4 818.0,472.7 817.5,472.1 817.0,471.5 816.5,470.8 816.0,470.2 815.5,469.5 815.0,468.9 814.5,468.3 814.0,467.7 813.5,467.1 813.0,466.5 812.5,466.0 812.0,465.4 811.5,464.8 811.0,464.3 810.5,463.7 810.0,463.1 809.5,462.6 809.0,462.0 808.5,461.5 808.0,460.9 807.5,460.3 807.0,459.8 806.5,459.2 806.0,458.6 805.5,458.1 805.0,457.5 804.5,456.9 804.0,456.3 803.5,455.8 803.0,455.2 802.5,454.6 802.0,454.0 801.5,453.4 801.0,452.8 800.5,452.3 800.0,451.7 799.5,451.1 799.0,450.5 798.5,449.9 798.0,449.3 797.5,448.6 797.0,447.6 796.5,446.5 796.0,445.5 795.5,444.5 795.0,443.4 794.5,442.4 794.0,441.4 793.5,440.3 793.0,439.3 792.5,438.3 792.0,437.2 791.5,436.2 791.0,435.2 790.5,434.2 790.0,433.1 789.5,432.1 789.0,431.1 788.5,430.0 788.0,429.0 787.5,427.0 787.0,425.0 786.5,423.0 786.0,421.0 785.5,419.0 785.0,417.0 784.5,416.4 784.0,415.7 783.5,415.1 783.0,414.4 782.5,413.8 782.0,413.2 781.5,412.5 781.0,411.9 780.5,411.6 780.0,411.2 779.5,410.9 779.0,410.6 778.5,410.3 778.0,409.9 777.5,409.6 777.0,409.3 776.5,408.0 776.0,406.8 775.5,405.5 775.0,404.2 774.5,403.0 774.0,401.7 773.5,400.4 773.0,399.2 772.5,397.9 772.0,396.6 771.5,395.4 771.0,394.1 770.5,392.2 770.0,390.3 769.5,388.4 769.0,386.5 768.5,386.4 768.0,386.2 767.5,386.1 767.0,385.9 766.5,385.8 766.0,385.7 765.5,385.5 765.0,385.4 764.5,385.2 764.0,385.1 763.5,385.0 763.0,384.8 762.5,384.7 762.0,384.6 761.5,384.4 761.0,384.3 760.5,384.1 760.0,384.0 759.5,383.6 759.0,383.1 758.5,382.7 758.0,382.3 757.5,381.8 757.0,381.4 756.5,381.3 756.0,381.3 755.5,381.2 755.0,381.2 754.5,381.1 754.0,381.1 753.5,381.0 753.0,380.9 752.5,380.9 752.0,380.8 751.5,380.8 751.0,380.7 750.5,380.7 750.0,380.6 749.5,380.6 749.0,380.5 748.5,380.4 748.0,380.4 747.5,380.3 747.0,380.3 746.5,380.2 746.0,380.2 745.5,380.1 745.0,380.0 744.5,379.7 744.0,378.0 743.5,376.4 743.0,374.8 742.5,373.1 742.0,371.5 741.5,369.9 741.0,368.2 740.5,366.6 740.0,365.0 739.5,363.4 739.0,362.7 738.5,362.6 738.0,362.6 737.5,362.6 737.0,362.5 736.5,362.5 736.0,362.5 735.5,362.5 735.0,362.4 734.5,362.4 734.0,362.4 733.5,362.3 733.0,362.3 732.5,362.3 732.0,362.2 731.5,362.2 731.0,362.2 730.5,362.1 730.0,362.1 729.5,362.1 729.0,362.0 728.5,362.0 728.0,362.0 727.5,361.9 727.0,361.9 726.5,361.9 726.0,361.8 725.5,361.8 725.0,361.8 724.5,361.7 724.0,361.7 723.5,361.7 723.0,361.6 722.5,361.6 722.0,361.6 721.5,361.5 721.0,361.5 720.5,361.5 720.0,361.4 719.5,361.4 719.0,361.3 718.5,361.2 718.0,361.1 717.5,360.9 717.0,360.8 716.5,360.7 716.0,360.6 715.5,360.5 715.0,360.4 714.5,360.3 714.0,360.1 713.5,360.0 713.0,359.9 712.5,359.8 712.0,359.7 711.5,359.6 711.0,359.5 710.5,359.3 710.0,359.2 709.5,359.1 709.0,359.0 708.5,358.9 708.0,358.8 707.5,358.7 707.0,358.5 706.5,358.4 706.0,358.3 705.5,358.2 705.0,358.1 704.5,358.0 704.0,357.9 703.5,357.7 703.0,357.6 702.5,357.5 702.0,357.4 701.5,357.3 701.0,357.2 700.5,357.0 700.0,356.9 699.5,356.8 699.0,356.7 698.5,356.6 698.0,356.5 697.5,356.4 697.0,356.2 696.5,356.1 696.0,356.0 695.5,355.9 695.0,355.8 694.5,355.6 694.0,355.5 693.5,355.4 693.0,355.3 692.5,353.9 692.0,352.5 691.5,351.1 691.0,349.7 690.5,348.3 690.0,346.9 689.5,345.5 689.0,344.1 688.5,342.7 688.0,341.3 687.5,339.9 687.0,338.6 686.5,337.2 686.0,335.8 685.5,334.4 685.0,333.0 684.5,331.6 684.0,330.2 683.5,328.8 683.0,327.4 682.5,326.0 682.0,324.6 681.5,323.2 681.0,321.8 680.5,320.0 680.0,318.2 679.5,316.4 679.0,314.6 678.5,312.7 678.0,310.9 677.5,309.1 677.0,307.3 676.5,307.1 676.0,306.9 675.5,306.8 675.0,306.6 674.5,306.4 674.0,306.2 673.5,306.0 673.0,305.9 672.5,305.7 672.0,305.5 671.5,305.5 671.0,305.5 670.5,305.5 670.0,305.4 669.5,305.4 669.0,305.4 668.5,305.4 668.0,305.4 667.5,305.4 667.0,305.4 666.5,305.4 666.0,305.3 665.5,305.3 665.0,305.3 664.5,305.3 664.0,305.3 663.5,305.3 663.0,305.3 662.5,305.2 662.0,305.2 661.5,305.2 661.0,305.2 660.5,305.2 660.0,305.2 659.5,305.2 659.0,305.2 658.5,305.1 658.0,305.1 657.5,305.1 657.0,305.1 656.5,304.3 656.0,303.4 655.5,302.6 655.0,301.8 654.5,301.0 654.0,300.1 653.5,299.3 653.0,298.5 652.5,297.6 652.0,296.8 651.5,295.7 651.0,294.6 650.5,293.5 650.0,292.4 649.5,291.3 649.0,290.2 648.5,289.2 648.0,288.1 647.5,287.0 647.0,285.9 646.5,284.8 646.0,283.7 645.5,283.6 645.0,283.6 644.5,283.6 644.0,283.5 643.5,283.4 643.0,283.4 642.5,283.4 642.0,283.3 641.5,283.2 641.0,283.2 640.5,283.2 640.0,283.1 639.5,283.5 639.0,283.8 638.5,284.2 638.0,284.5 637.5,284.9 637.0,285.3 636.5,285.6 636.0,286.0 635.5,286.3 635.0,286.7 634.5,286.4 634.0,286.0 633.5,285.6 633.0,285.3 632.5,285.0 632.0,284.6 631.5,284.7 631.0,284.8 630.5,284.9 630.0,285.0 629.5,285.1 629.0,285.2 628.5,285.4 628.0,285.5 627.5,285.6 627.0,285.7 626.5,285.8 626.0,285.9 625.5,286.0 625.0,286.1 624.5,286.0 624.0,285.9 623.5,285.8 623.0,285.7 622.5,285.6 622.0,285.5 621.5,285.4 621.0,285.3 620.5,285.2 620.0,285.1 619.5,285.0 619.0,284.9 618.5,284.8 618.0,284.7 617.5,284.6 617.0,284.5 616.5,284.4 616.0,284.3 615.5,284.2 615.0,284.1 614.5,283.8 614.0,283.5 613.5,283.2 613.0,282.9 612.5,282.6 612.0,282.3 611.5,282.0 611.0,281.7 610.5,281.4 610.0,281.1 609.5,280.4 609.0,279.7 608.5,279.1 608.0,278.4 607.5,277.7 607.0,277.0 606.5,276.3 606.0,275.6 605.5,274.9 605.0,274.3 604.5,273.6 604.0,272.9 603.5,271.8 603.0,270.6 602.5,269.5 602.0,268.4 601.5,267.2 601.0,266.1 600.5,265.0 600.0,263.9 599.5,262.7 599.0,261.6 598.5,260.4 598.0,259.2 597.5,258.0 597.0,256.8 596.5,255.7 596.0,254.5 595.5,253.3 595.0,252.1 594.5,250.9 594.0,249.7 593.5,249.4 593.0,249.1 592.5,248.8 592.0,248.5 591.5,248.2 591.0,247.9 590.5,247.6 590.0,247.3 589.5,247.0 589.0,246.7 588.5,246.4 588.0,246.1 587.5,245.8 587.0,245.5 586.5,245.2 586.0,244.9 585.5,244.6 585.0,244.3 584.5,244.0 584.0,243.7 583.5,242.9 583.0,242.0 582.5,241.2 582.0,240.4 581.5,239.6 581.0,238.7 580.5,237.9 580.0,237.1 579.5,236.2 579.0,235.4 578.5,235.3 578.0,235.3 577.5,235.2 577.0,235.1 576.5,235.1 576.0,235.0 575.5,234.9 575.0,234.9 574.5,234.8 574.0,233.7 573.5,232.6 573.0,231.4 572.5,230.3 572.0,229.2 571.5,228.1 571.0,226.9 570.5,225.8 570.0,224.7 569.5,223.6 569.0,223.0 568.5,222.7 568.0,222.5 567.5,222.3 567.0,222.1 566.5,221.8 566.0,221.6 565.5,221.4 565.0,221.1 564.5,220.9 564.0,220.7 563.5,220.4 563.0,220.0 562.5,219.5 562.0,219.0 561.5,218.6 561.0,218.1 560.5,217.7 560.0,217.2 559.5,216.8 559.0,216.3 558.5,215.8 558.0,215.4 557.5,211.6" fill="#fcd5d3"/>
<polygon points="959.0,445.2 959.5,443.2 960.0,441.1 960.5,440.7 961.0,440.3 961.5,439.9 962.0,439.6 962.5,439.2 963.0,438.8 963.5,438.4 964.0,438.0 964.5,436.9 965.0,435.8 965.5,434.7 966.0,433.6 966.5,432.4 967.0,431.3 967.5,430.2 968.0,429.1 968.5,428.7 969.0,428.3 969.5,428.0 970.0,427.6 970.5,427.2 971.0,426.8 971.5,426.5 972.0,426.1 972.5,425.7 973.0,425.3 973.5,424.9 974.0,424.6 974.5,424.2 975.0,423.8 975.5,423.8 976.0,423.8 976.5,423.8 977.0,423.8 977.5,423.8 978.0,423.8 978.5,423.8 979.0,423.8 979.5,423.8 980.0,423.8 980.5,423.8 981.0,423.8 981.5,423.8 982.0,423.8 982.5,423.8 983.0,423.8 983.5,423.8 984.0,423.8 984.5,423.8 985.0,423.8 985.5,423.8 986.0,423.8 986.5,423.8 987.0,423.8 987.5,423.8 988.0,423.8 988.5,423.8 989.0,423.8 989.5,423.8 990.0,423.8 990.5,423.8 991.0,423.8 991.5,423.8 992.0,423.8 992.5,423.8 993.0,423.8 993.5,423.8 994.0,423.8 994.5,423.8 995.0,423.8 995.5,423.8 996.0,423.8 996.5,423.8 997.0,423.8 997.5,423.5 998.0,423.1 998.5,422.8 999.0,422.5 999.5,422.2 1000.0,421.9 1000.5,421.5 1001.0,421.2 1001.5,420.9 1002.0,420.5 1002.5,420.2 1003.0,419.9 1003.5,419.1 1004.0,418.2 1004.5,417.4 1005.0,416.5 1005.5,415.7 1006.0,414.9 1006.5,414.0 1007.0,413.2 1007.5,412.3 1008.0,411.5 1008.5,411.3 1009.0,411.0 1009.5,410.8 1010.0,410.6 1010.5,410.4 1011.0,410.1 1011.5,409.9 1012.0,409.7 1012.5,409.4 1013.0,409.2 1013.5,408.2 1014.0,407.1 1014.5,406.1 1015.0,405.0 1015.5,404.0 1016.0,402.9 1016.5,401.9 1017.0,400.9 1017.5,399.8 1018.0,398.8 1018.5,397.7 1019.0,396.7 1019.5,395.6 1020.0,394.6 1020.5,394.6 1021.0,394.6 1021.5,394.6 1022.0,394.6 1022.5,394.6 1023.0,394.6 1023.5,394.6 1024.0,394.6 1024.5,394.6 1025.0,394.6 1025.5,394.6 1026.0,394.6 1026.5,394.6 1027.0,394.6 1027.5,394.6 1028.0,394.6 1028.5,394.6 1029.0,394.6 1029.5,394.6 1030.0,394.6 1030.5,394.6 1031.0,394.7 1031.5,394.7 1032.0,394.7 1032.5,394.7 1033.0,394.8 1033.5,394.8 1034.0,394.8 1034.5,394.8 1035.0,394.9 1035.5,394.9 1036.0,394.9 1036.5,394.9 1037.0,395.0 1037.5,395.0 1038.0,395.0 1038.5,395.1 1039.0,395.1 1039.5,395.1 1040.0,395.1 1040.5,395.2 1041.0,395.2 1041.5,395.2 1042.0,395.2 1042.5,395.3 1043.0,395.3 1043.5,395.3 1044.0,395.3 1044.5,395.4 1045.0,395.4 1045.5,395.5 1046.0,395.7 1046.5,395.8 1047.0,395.9 1047.5,396.0 1048.0,396.2 1048.5,396.3 1049.0,396.4 1049.5,396.5 1050.0,396.7 1050.5,396.8 1051.0,396.9 1051.5,397.1 1052.0,397.2 1052.5,397.3 1053.0,397.4 1053.5,397.6 1054.0,397.7 1054.5,397.5 1055.0,397.3 1055.5,397.1 1056.0,396.9 1056.5,396.7 1057.0,396.5 1057.5,396.3 1058.0,396.1 1058.5,396.2 1059.0,396.4 1059.5,396.5 1060.0,396.6 1060.5,396.7 1061.0,396.9 1061.5,397.0 1062.0,397.1 1062.5,397.3 1063.0,397.4 1063.5,397.5 1064.0,397.6 1064.5,397.8 1065.0,397.9 1065.5,398.0 1066.0,398.2 1066.5,398.3 1067.0,398.4 1067.5,398.6 1068.0,398.7 1068.5,398.8 1069.0,398.9 1069.5,399.1 1070.0,399.2 1070.5,399.2 1071.0,399.2 1071.5,399.2 1072.0,399.2 1072.5,399.2 1073.0,399.2 1073.5,399.2 1074.0,399.2 1074.5,399.2 1075.0,399.2 1075.5,399.2 1076.0,399.2 1076.5,399.2 1077.0,399.2 1077.5,399.2 1078.0,399.2 1078.5,399.2 1079.0,399.2 1079.5,399.2 1080.0,399.2 1080.5,399.2 1081.0,399.2 1081.5,399.2 1082.0,399.2 1082.5,399.2 1083.0,399.2 1083.5,399.2 1084.0,399.2 1084.5,399.2 1085.0,399.2 1085.5,398.7 1086.0,398.2 1086.5,397.8 1087.0,397.3 1087.5,396.8 1088.0,396.3 1088.5,395.9 1089.0,395.4 1089.5,399.1 1090.0,402.9 1090.5,406.6 1091.0,410.4 1091.5,414.1 1092.0,417.8 1092.5,421.6 1093.0,425.3 1093.5,425.6 1094.0,425.8 1094.5,426.1 1095.0,426.3 1095.5,426.6 1096.0,426.8 1096.5,426.9 1097.0,426.9 1097.5,426.9 1098.0,427.0 1098.5,427.1 1099.0,427.1 1099.5,427.2 1100.0,427.2 1100.5,427.2 1101.0,427.3 1101.5,427.4 1102.0,427.4 1102.5,427.5 1103.0,427.5 1103.5,427.6 1104.0,427.6 1104.5,429.1 1105.0,430.7 1105.5,432.2 1106.0,433.8 1106.5,435.3 1107.0,436.8 1107.5,438.4 1108.0,439.9 1108.5,440.6 1109.0,441.2 1109.5,441.6 1109.5,441.9 1109.0,441.2 1108.5,440.9 1108.0,440.6 1107.5,440.2 1107.0,439.9 1106.5,439.6 1106.0,439.3 1105.5,438.9 1105.0,438.6 1104.5,438.6 1104.0,438.5 1103.5,438.5 1103.0,438.5 1102.5,438.4 1102.0,438.4 1101.5,438.4 1101.0,438.3 1100.5,438.3 1100.0,438.3 1099.5,438.2 1099.0,438.2 1098.5,438.6 1098.0,439.0 1097.5,439.4 1097.0,439.8 1096.5,440.2 1096.0,440.7 1095.5,441.1 1095.0,441.5 1094.5,441.9 1094.0,442.3 1093.5,442.6 1093.0,442.8 1092.5,443.1 1092.0,443.3 1091.5,443.6 1091.0,443.8 1090.5,444.1 1090.0,444.3 1089.5,444.4 1089.0,444.4 1088.5,444.5 1088.0,444.5 1087.5,444.6 1087.0,444.6 1086.5,444.7 1086.0,444.7 1085.5,444.8 1085.0,444.8 1084.5,444.9 1084.0,444.9 1083.5,445.0 1083.0,445.0 1082.5,445.1 1082.0,445.1 1081.5,445.2 1081.0,445.3 1080.5,445.3 1080.0,445.4 1079.5,445.4 1079.0,445.5 1078.5,445.5 1078.0,445.6 1077.5,445.6 1077.0,445.7 1076.5,445.7 1076.0,445.8 1075.5,445.8 1075.0,445.9 1074.5,445.9 1074.0,446.0 1073.5,446.9 1073.0,447.8 1072.5,448.6 1072.0,449.5 1071.5,450.4 1071.0,451.2 1070.5,452.1 1070.0,453.0 1069.5,453.9 1069.0,454.8 1068.5,455.6 1068.0,456.5 1067.5,457.2 1067.0,457.9 1066.5,458.7 1066.0,459.4 1065.5,460.1 1065.0,460.8 1064.5,461.5 1064.0,462.3 1063.5,463.0 1063.0,463.7 1062.5,463.8 1062.0,464.0 1061.5,464.1 1061.0,464.2 1060.5,464.4 1060.0,464.5 1059.5,464.5 1059.0,464.5 1058.5,464.5 1058.0,464.5 1057.5,464.5 1057.0,464.5 1056.5,464.6 1056.0,464.6 1055.5,464.6 1055.0,464.6 1054.5,464.6 1054.0,464.6 1053.5,464.6 1053.0,464.6 1052.5,464.6 1052.0,464.6 1051.5,464.6 1051.0,464.6 1050.5,464.6 1050.0,464.7 1049.5,464.7 1049.0,464.7 1048.5,464.7 1048.0,464.7 1047.5,464.7 1047.0,464.7 1046.5,464.7 1046.0,464.7 1045.5,464.7 1045.0,464.7 1044.5,464.7 1044.0,464.7 1043.5,464.8 1043.0,464.8 1042.5,464.8 1042.0,464.8 1041.5,464.8 1041.0,464.8 1040.5,464.8 1040.0,464.8 1039.5,464.8 1039.0,464.8 1038.5,464.8 1038.0,464.8 1037.5,464.8 1037.0,464.9 1036.5,464.9 1036.0,464.9 1035.5,464.9 1035.0,464.9 1034.5,464.9 1034.0,464.9 1033.5,464.9 1033.0,464.9 1032.5,464.9 1032.0,464.9 1031.5,464.9 1031.0,464.9 1030.5,464.9 1030.0,465.0 1029.5,465.0 1029.0,465.0 1028.5,465.0 1028.0,465.0 1027.5,465.0 1027.0,465.0 1026.5,465.0 1026.0,465.0 1025.5,465.0 1025.0,465.0 1024.5,465.0 1024.0,465.0 1023.5,465.1 1023.0,465.1 1022.5,465.1 1022.0,465.1 1021.5,465.1 1021.0,465.1 1020.5,465.1 1020.0,465.1 1019.5,465.1 1019.0,465.1 1018.5,465.1 1018.0,465.1 1017.5,465.1 1017.0,465.2 1016.5,465.2 1016.0,465.2 1015.5,465.2 1015.0,465.2 1014.5,465.2 1014.0,465.2 1013.5,466.4 1013.0,467.5 1012.5,468.6 1012.0,469.8 1011.5,469.9 1011.0,470.0 1010.5,470.1 1010.0,470.2 1009.5,470.3 1009.0,470.4 1008.5,470.5 1008.0,470.6 1007.5,470.0 1007.0,469.3 1006.5,468.7 1006.0,468.1 1005.5,467.4 1005.0,466.8 1004.5,465.9 1004.0,465.0 1003.5,464.1 1003.0,463.2 1002.5,462.3 1002.0,461.4 1001.5,461.4 1001.0,461.3 1000.5,461.3 1000.0,461.3 999.5,461.2 999.0,461.2 998.5,461.2 998.0,461.2 997.5,461.1 997.0,461.1 996.5,461.0 996.0,460.8 995.5,460.7 995.0,460.5 994.5,460.4 994.0,460.2 993.5,460.1 993.0,460.0 992.5,459.8 992.0,459.7 991.5,459.5 991.0,459.4 990.5,459.2 990.0,459.1 989.5,458.6 989.0,458.1 988.5,457.6 988.0,457.1 987.5,456.7 987.0,456.2 986.5,455.7 986.0,455.2 985.5,454.8 985.0,454.5 984.5,454.1 984.0,453.8 983.5,453.4 983.0,453.1 982.5,452.8 982.0,452.4 981.5,452.1 981.0,451.7 980.5,451.4 980.0,451.0 979.5,450.6 979.0,450.3 978.5,449.9 978.0,449.5 977.5,449.1 977.0,448.8 976.5,448.4 976.0,448.0 975.5,447.7 975.0,447.3 974.5,447.3 974.0,447.3 973.5,447.3 973.0,447.3 972.5,447.3 972.0,447.3 971.5,447.3 971.0,447.3 970.5,447.3 970.0,447.3 969.5,447.3 969.0,447.3 968.5,447.3 968.0,447.3 967.5,447.3 967.0,447.3 966.5,447.3 966.0,447.3 965.5,447.3 965.0,447.3 964.5,447.3 964.0,447.3 963.5,447.3 963.0,447.3 962.5,447.3 962.0,447.3 961.5,447.3 961.0,447.3 960.5,447.3 960.0,447.3 959.5,447.3 959.0,447.3" fill="#c8e5c9"/>
<polygon points="1109.5,441.6 1110.0,441.9 1110.5,442.1 1111.0,442.3 1111.5,442.5 1112.0,442.7 1112.5,442.9 1113.0,443.1 1113.5,443.3 1114.0,443.5 1114.5,443.7 1115.0,443.9 1115.5,444.1 1116.0,444.3 1116.5,444.5 1117.0,444.7 1117.5,444.9 1118.0,445.1 1118.5,445.3 1119.0,445.5 1119.5,445.7 1120.0,445.9 1120.5,446.2 1121.0,446.4 1121.5,446.6 1122.0,446.8 1122.5,447.0 1123.0,447.2 1123.5,447.4 1124.0,447.6 1124.5,447.8 1125.0,448.0 1125.5,448.2 1126.0,448.4 1126.5,448.6 1127.0,448.8 1127.5,449.0 1128.0,449.2 1128.5,449.4 1129.0,449.6 1129.5,449.8 1130.0,450.0 1130.0,450.0 1129.5,449.8 1129.0,449.7 1128.5,449.5 1128.0,449.4 1127.5,449.2 1127.0,449.0 1126.5,448.9 1126.0,448.7 1125.5,448.6 1125.0,448.4 1124.5,448.2 1124.0,448.1 1123.5,447.9 1123.0,447.8 1122.5,447.6 1122.0,447.4 1121.5,447.3 1121.0,447.1 1120.5,446.9 1120.0,446.8 1119.5,446.6 1119.0,446.5 1118.5,446.3 1118.0,446.1 1117.5,446.0 1117.0,445.8 1116.5,445.7 1116.0,445.5 1115.5,445.3 1115.0,445.2 1114.5,445.0 1114.0,444.9 1113.5,444.7 1113.0,444.5 1112.5,444.4 1112.0,444.2 1111.5,444.1 1111.0,443.9 1110.5,443.2 1110.0,442.6 1109.5,441.9" fill="#fcd5d3"/>
<polygon points="1130.0,450.0 1130.5,450.2 1130.5,450.4 1130.0,450.0" fill="#c8e5c9"/>
<polygon points="1130.5,450.2 1131.0,450.4 1131.5,450.6 1132.0,450.8 1132.5,450.9 1133.0,451.1 1133.5,451.3 1134.0,451.5 1134.5,451.7 1135.0,451.9 1135.5,451.9 1136.0,451.7 1136.5,451.5 1137.0,451.3 1137.5,451.1 1138.0,450.9 1138.5,450.6 1139.0,450.4 1139.5,450.2 1140.0,450.0 1140.0,450.0 1139.5,450.5 1139.0,451.0 1138.5,451.4 1138.0,451.9 1137.5,452.4 1137.0,452.9 1136.5,453.4 1136.0,453.8 1135.5,454.3 1135.0,454.2 1134.5,453.8 1134.0,453.4 1133.5,453.0 1133.0,452.5 1132.5,452.1 1132.0,451.7 1131.5,451.3 1131.0,450.8 1130.5,450.4" fill="#fcd5d3"/>
<polygon points="1140.0,450.0 1140.5,450.0 1141.0,450.0 1141.5,450.0 1142.0,450.0 1142.5,450.0 1143.0,450.0 1143.5,450.0 1144.0,450.0 1144.5,450.0 1145.0,450.0 1145.5,450.0 1146.0,450.0 1146.5,450.0 1147.0,450.0 1147.5,450.0 1148.0,450.0 1148.5,450.3 1148.5,450.6 1148.0,450.0 1147.5,450.0 1147.0,450.0 1146.5,450.0 1146.0,450.0 1145.5,450.0 1145.0,450.0 1144.5,450.0 1144.0,450.0 1143.5,450.0 1143.0,450.0 1142.5,450.0 1142.0,450.0 1141.5,450.0 1141.0,450.0 1140.5,450.0 1140.0,450.0" fill="#c8e5c9"/>
<polygon points="1148.5,450.3 1149.0,450.7 1149.5,451.0 1150.0,451.3 1150.5,451.7 1151.0,452.0 1151.5,452.0 1152.0,452.0 1152.5,452.0 1153.0,452.0 1153.5,452.0 1154.0,452.0 1154.5,452.0 1155.0,452.0 1155.5,452.0 1156.0,452.0 1156.5,451.5 1157.0,451.0 1157.5,450.5 1158.0,450.0 1158.0,450.0 1157.5,450.9 1157.0,451.8 1156.5,452.6 1156.0,453.5 1155.5,453.5 1155.0,453.5 1154.5,453.5 1154.0,453.5 1153.5,453.5 1153.0,453.5 1152.5,453.5 1152.0,453.5 1151.5,453.5 1151.0,453.5 1150.5,452.9 1150.0,452.3 1149.5,451.8 1149.0,451.2 1148.5,450.6" fill="#fcd5d3"/>
<polygon points="1158.0,450.0 1158.0,450.0" fill="#c8e5c9"/>
<polyline points="240.5,34.5 243.0,40.4 248.0,51.8 252.0,58.5 259.0,59.0 261.0,61.1 263.0,68.3 266.0,78.7 270.0,80.8 272.0,82.8 274.0,90.1 276.0,104.7 278.0,127.3 281.0,159.5 283.0,183.7 285.0,195.0 290.0,201.5 296.0,203.9 305.0,206.0 310.0,207.9 315.0,212.9 316.7,213.7 321.2,221.6 326.6,225.4 337.0,200.8 341.6,204.1 357.8,204.1 358.7,205.4 362.4,226.2 367.8,232.4 372.4,232.8 382.8,240.9 387.4,239.5 393.6,239.9 399.4,247.0 403.6,247.2 409.4,254.5 414.4,249.5 419.0,227.4 420.2,226.6 423.2,224.5 428.1,207.5 429.8,205.4 435.2,202.9 440.2,193.6 445.9,184.2 455.7,184.0 465.1,181.6 470.8,176.4 477.0,167.6 486.9,167.1 491.5,172.3 496.7,174.9 501.4,170.7 506.6,161.4 516.9,161.4 523.1,166.1 527.8,171.3 541.8,171.8 547.5,170.2 553.2,171.6 557.9,215.3 563.6,220.5 569.3,223.1 574.5,234.8 579.0,235.4 584.0,243.7 594.0,249.7 599.0,261.6 604.0,272.9 610.0,281.1 615.0,284.1 625.0,286.1 632.0,284.6 635.0,286.7 640.0,283.1 646.0,283.7 652.0,296.8 657.0,305.1 672.0,305.5 677.0,307.3 681.0,321.8 693.0,355.3 702.0,357.4 719.5,361.4 739.3,362.7 744.6,380.0 757.0,381.4 760.0,384.0 769.0,386.5 771.0,394.1 777.0,409.3 781.0,411.9 785.0,417.0 788.0,429.0 797.7,449.0 805.0,457.5 814.3,468.0 820.0,475.3 827.0,480.5 832.0,486.7 838.0,489.8 842.0,489.8 845.0,486.7 847.0,482.6 851.0,480.5 858.0,481.5 867.0,481.5 872.0,484.7 874.0,485.7 877.0,483.1 884.0,479.5 888.0,477.4 893.0,478.4 899.0,472.2 900.0,469.6 903.0,471.2 905.0,473.8 912.0,474.3 919.0,473.8 924.0,472.2 930.0,467.5 936.0,460.8 940.0,456.1 946.0,454.1 955.0,454.1 958.0,449.4 960.0,441.1 964.0,438.0 968.0,429.1 975.0,423.8 997.0,423.8 1003.0,419.9 1008.0,411.5 1013.0,409.2 1020.0,394.6 1030.0,394.6 1045.0,395.4 1054.0,397.7 1058.0,396.1 1070.0,399.2 1085.0,399.2 1089.0,395.4 1093.0,425.3 1096.0,426.8 1104.0,427.6 1108.0,439.9 1111.0,443.9 1130.0,450.0 1135.3,454.5 1140.0,450.0 1148.0,450.0 1151.0,453.5 1156.0,453.5 1158.0,450.0" fill="none" stroke="#a5d6a7" stroke-width="1.2"/>
<polyline points="278.5,34.5 280.0,43.5 282.0,69.4 285.0,101.5 295.0,101.5 300.0,107.9 305.0,114.4 307.0,115.2 332.0,115.2 335.0,119.2 340.0,146.6 350.0,149.4 357.0,151.5 362.0,160.0 366.0,166.1 375.0,167.9 380.0,170.4 385.0,174.9 466.1,174.9 491.0,175.7 496.7,210.1 501.4,214.3 507.1,214.3 511.7,229.3 516.9,234.5 548.0,234.5 552.7,209.6 557.9,207.6 564.1,212.2 569.3,212.2 574.5,223.6 579.0,223.2 584.0,231.4 646.6,231.4 652.0,241.4 657.0,247.1 677.0,247.1 681.5,254.2 692.0,260.1 707.0,260.1 713.0,262.7 739.0,262.7 744.0,287.9 749.0,292.0 768.0,294.0 771.0,299.0 775.0,309.2 780.0,312.5 785.0,313.0 787.0,315.5 790.0,325.6 793.0,346.0 797.0,348.0 800.0,354.8 808.0,356.6 814.0,363.7 818.0,370.0 822.0,394.1 826.0,424.6 830.0,427.6 855.0,428.1 858.0,429.2 904.0,429.2 909.0,434.9 934.0,434.9 940.0,437.5 945.0,444.2 946.0,447.3 975.0,447.3 980.0,451.0 986.0,455.2 990.0,459.1 997.0,461.1 1002.0,461.4 1005.0,466.8 1008.0,470.6 1012.0,469.8 1014.0,465.2 1060.0,464.5 1063.0,463.7 1068.0,456.5 1074.0,446.0 1090.0,444.3 1094.0,442.3 1099.0,438.2 1105.0,438.6 1110.0,441.9 1130.0,450.0 1135.3,452.0 1140.0,450.0 1148.0,450.0 1151.0,452.0 1156.0,452.0 1158.0,450.0" fill="none" stroke="#ef9a9a" stroke-width="1.2"/>
<g style="mix-blend-mode:multiply">
<rect x="14" y="282" width="1086.5" height="32" fill="#d4d4d7"/>
<rect x="14" y="457" width="1070.5" height="28" fill="#d4d4d7"/>
</g>
<g fill="#2a2e39">
<rect x="14" y="282" width="1085" height="1"/><rect x="14" y="298" width="1085" height="1"/><rect x="14" y="314" width="1085" height="1"/><rect x="1100" y="281" width="1" height="32"/>
<rect x="14" y="457" width="1070" height="1"/><rect x="14" y="471" width="1070" height="1"/><rect x="14" y="485" width="1070" height="1"/><rect x="1084" y="456" width="1" height="28"/>
</g>
<rect x="14" y="553.5" width="1060.5" height="32" fill="#dcedda" stroke="#4caf50" stroke-width="1"/>
<text x="23.5" y="59" font-size="15.5" fill="#131722" textLength="238" lengthAdjust="spacingAndGlyphs">Ethereum / TetherUS · 4h · Binance</text>
<text x="272" y="59" font-size="15.5" fill="#131722" textLength="67.2" lengthAdjust="spacingAndGlyphs">O<tspan fill="#2962ff">3,086.13</tspan></text>
<text x="349.2" y="59" font-size="15.5" fill="#131722" textLength="66.8" lengthAdjust="spacingAndGlyphs">H<tspan fill="#2962ff">3,139.26</tspan></text>
<text x="427" y="59" font-size="15.5" fill="#131722" textLength="64.5" lengthAdjust="spacingAndGlyphs">L<tspan fill="#2962ff">3,064.36</tspan></text>
<text x="501.2" y="59" font-size="15.5" fill="#131722" textLength="66.8" lengthAdjust="spacingAndGlyphs">C<tspan fill="#2962ff">3,131.99</tspan></text>
<text x="578.4" y="59" font-size="15.5" fill="#2962ff" textLength="104.8" lengthAdjust="spacingAndGlyphs">+45.87 (+1.49%)</text>
<text x="23.5" y="80" font-size="15.5" fill="#131722" textLength="160" lengthAdjust="spacingAndGlyphs">Ichimoku (9, 26, 52, 26)</text>
<text x="193.6" y="80" font-size="15.5" fill="#a5d6a7" textLength="57.8" lengthAdjust="spacingAndGlyphs">2,947.40</text>
<text x="260.8" y="80" font-size="15.5" fill="#ef9a9a" textLength="57.8" lengthAdjust="spacingAndGlyphs">2,930.86</text>

<rect x="100" y="33" width="1" height="31" fill="#121212"/>
<rect x="98" y="33" width="5" height="28" fill="#121212"/>
<rect x="105" y="47" width="1" height="36" fill="#121212"/>
<rect x="103" y="60" width="5" height="10" fill="#121212"/>
<rect x="110" y="59" width="1" height="35" fill="#121212"/>
<rect x="108" y="70" width="5" height="3" fill="#121212"/>
<rect x="115" y="55" width="1" height="76" fill="#121212"/>
<rect x="113" y="72" width="5" height="57" fill="#121212"/>
<rect x="121" y="85" width="1" height="55" fill="#2962ff"/>
<rect x="119" y="109" width="5" height="20" fill="#2962ff"/>
<rect x="126" y="106" width="1" height="36" fill="#121212"/>
<rect x="124" y="109" width="5" height="12" fill="#121212"/>
<rect x="131" y="98" width="1" height="40" fill="#2962ff"/>
<rect x="129" y="104" width="5" height="18" fill="#2962ff"/>
<rect x="136" y="101" width="1" height="80" fill="#121212"/>
<rect x="134" y="104" width="5" height="68" fill="#121212"/>
<rect x="141" y="154" width="1" height="34" fill="#2962ff"/>
<rect x="139" y="156" width="5" height="16" fill="#2962ff"/>
<rect x="146" y="129" width="1" height="52" fill="#121212"/>
<rect x="144" y="156" width="5" height="11" fill="#121212"/>
<rect x="151" y="160" width="1" height="135" fill="#121212"/>
<rect x="149" y="166" width="5" height="129" fill="#121212"/>
<rect x="157" y="260" width="1" height="114" fill="#2962ff"/>
<rect x="155" y="268" width="5" height="27" fill="#2962ff"/>
<rect x="162" y="239" width="1" height="84" fill="#2962ff"/>
<rect x="160" y="246" width="5" height="22" fill="#2962ff"/>
<rect x="167" y="236" width="1" height="24" fill="#121212"/>
<rect x="165" y="246" width="5" height="2" fill="#121212"/>
<rect x="172" y="247" width="1" height="26" fill="#121212"/>
<rect x="170" y="247" width="5" height="5" fill="#121212"/>
<rect x="177" y="216" width="1" height="40" fill="#2962ff"/>
<rect x="175" y="216" width="5" height="36" fill="#2962ff"/>
<rect x="182" y="179" width="1" height="50" fill="#2962ff"/>
<rect x="180" y="190" width="5" height="27" fill="#2962ff"/>
<rect x="188" y="178" width="1" height="30" fill="#121212"/>
<rect x="186" y="190" width="5" height="15" fill="#121212"/>
<rect x="193" y="192" width="1" height="34" fill="#2962ff"/>
<rect x="191" y="201" width="5" height="4" fill="#2962ff"/>
<rect x="198" y="189" width="1" height="45" fill="#121212"/>
<rect x="196" y="201" width="5" height="25" fill="#121212"/>
<rect x="203" y="209" width="1" height="17" fill="#2962ff"/>
<rect x="201" y="216" width="5" height="10" fill="#2962ff"/>
<rect x="208" y="213" width="1" height="59" fill="#121212"/>
<rect x="206" y="216" width="5" height="46" fill="#121212"/>
<rect x="213" y="238" width="1" height="49" fill="#2962ff"/>
<rect x="211" y="250" width="5" height="12" fill="#2962ff"/>
<rect x="218" y="244" width="1" height="23" fill="#121212"/>
<rect x="216" y="251" width="5" height="5" fill="#121212"/>
<rect x="224" y="232" width="1" height="41" fill="#2962ff"/>
<rect x="222" y="241" width="5" height="15" fill="#2962ff"/>
<rect x="229" y="229" width="1" height="24" fill="#2962ff"/>
<rect x="227" y="235" width="5" height="6" fill="#2962ff"/>
<rect x="234" y="235" width="1" height="61" fill="#121212"/>
<rect x="232" y="235" width="5" height="45" fill="#121212"/>
<rect x="239" y="253" width="1" height="58" fill="#2962ff"/>
<rect x="237" y="263" width="5" height="17" fill="#2962ff"/>
<rect x="244" y="192" width="1" height="82" fill="#2962ff"/>
<rect x="242" y="195" width="5" height="69" fill="#2962ff"/>
<rect x="249" y="182" width="1" height="20" fill="#121212"/>
<rect x="247" y="195" width="5" height="5" fill="#121212"/>
<rect x="255" y="184" width="1" height="28" fill="#2962ff"/>
<rect x="253" y="191" width="5" height="9" fill="#2962ff"/>
<rect x="260" y="175" width="1" height="32" fill="#121212"/>
<rect x="258" y="191" width="5" height="2" fill="#121212"/>
<rect x="265" y="182" width="1" height="29" fill="#121212"/>
<rect x="263" y="193" width="5" height="18" fill="#121212"/>
<rect x="270" y="207" width="1" height="22" fill="#121212"/>
<rect x="268" y="210" width="5" height="17" fill="#121212"/>
<rect x="275" y="212" width="1" height="24" fill="#2962ff"/>
<rect x="273" y="220" width="5" height="7" fill="#2962ff"/>
<rect x="280" y="208" width="1" height="16" fill="#2962ff"/>
<rect x="278" y="215" width="5" height="6" fill="#2962ff"/>
<rect x="285" y="215" width="1" height="20" fill="#121212"/>
<rect x="283" y="215" width="5" height="13" fill="#121212"/>
<rect x="291" y="203" width="1" height="25" fill="#2962ff"/>
<rect x="289" y="205" width="5" height="23" fill="#2962ff"/>
<rect x="296" y="199" width="1" height="25" fill="#2962ff"/>
<rect x="294" y="202" width="5" height="3" fill="#2962ff"/>
<rect x="301" y="140" width="1" height="63" fill="#2962ff"/>
<rect x="299" y="162" width="5" height="41" fill="#2962ff"/>
<rect x="306" y="132" width="1" height="37" fill="#2962ff"/>
<rect x="304" y="132" width="5" height="31" fill="#2962ff"/>
<rect x="311" y="112" width="1" height="29" fill="#2962ff"/>
<rect x="309" y="131" width="5" height="2" fill="#2962ff"/>
<rect x="316" y="96" width="1" height="49" fill="#2962ff"/>
<rect x="314" y="110" width="5" height="22" fill="#2962ff"/>
<rect x="322" y="110" width="1" height="18" fill="#121212"/>
<rect x="320" y="110" width="5" height="9" fill="#121212"/>
<rect x="327" y="109" width="1" height="20" fill="#2962ff"/>
<rect x="325" y="118" width="5" height="1" fill="#2962ff"/>
<rect x="332" y="113" width="1" height="53" fill="#121212"/>
<rect x="330" y="118" width="5" height="43" fill="#121212"/>
<rect x="337" y="134" width="1" height="32" fill="#2962ff"/>
<rect x="335" y="142" width="5" height="19" fill="#2962ff"/>
<rect x="342" y="131" width="1" height="25" fill="#2962ff"/>
<rect x="340" y="139" width="5" height="4" fill="#2962ff"/>
<rect x="347" y="101" width="1" height="41" fill="#2962ff"/>
<rect x="345" y="120" width="5" height="19" fill="#2962ff"/>
<rect x="352" y="118" width="1" height="36" fill="#121212"/>
<rect x="350" y="120" width="5" height="30" fill="#121212"/>
<rect x="358" y="129" width="1" height="20" fill="#2962ff"/>
<rect x="356" y="135" width="5" height="14" fill="#2962ff"/>
<rect x="363" y="126" width="1" height="57" fill="#121212"/>
<rect x="361" y="135" width="5" height="44" fill="#121212"/>
<rect x="368" y="169" width="1" height="25" fill="#121212"/>
<rect x="366" y="178" width="5" height="11" fill="#121212"/>
<rect x="373" y="187" width="1" height="26" fill="#121212"/>
<rect x="371" y="189" width="5" height="19" fill="#121212"/>
<rect x="378" y="190" width="1" height="21" fill="#2962ff"/>
<rect x="376" y="197" width="5" height="11" fill="#2962ff"/>
<rect x="383" y="189" width="1" height="14" fill="#121212"/>
<rect x="381" y="197" width="5" height="6" fill="#121212"/>
<rect x="389" y="137" width="1" height="66" fill="#2962ff"/>
<rect x="387" y="147" width="5" height="56" fill="#2962ff"/>
<rect x="394" y="129" width="1" height="78" fill="#121212"/>
<rect x="392" y="147" width="5" height="57" fill="#121212"/>
<rect x="399" y="190" width="1" height="39" fill="#121212"/>
<rect x="397" y="203" width="5" height="10" fill="#121212"/>
<rect x="404" y="197" width="1" height="22" fill="#2962ff"/>
<rect x="402" y="209" width="5" height="4" fill="#2962ff"/>
<rect x="409" y="182" width="1" height="44" fill="#2962ff"/>
<rect x="407" y="191" width="5" height="19" fill="#2962ff"/>
<rect x="414" y="139" width="1" height="61" fill="#2962ff"/>
<rect x="412" y="151" width="5" height="41" fill="#2962ff"/>
<rect x="419" y="146" width="1" height="34" fill="#121212"/>
<rect x="417" y="151" width="5" height="18" fill="#121212"/>
<rect x="425" y="164" width="1" height="67" fill="#121212"/>
<rect x="423" y="168" width="5" height="55" fill="#121212"/>
<rect x="430" y="216" width="1" height="103" fill="#121212"/>
<rect x="428" y="222" width="5" height="88" fill="#121212"/>
<rect x="435" y="275" width="1" height="54" fill="#2962ff"/>
<rect x="433" y="293" width="5" height="17" fill="#2962ff"/>
<rect x="440" y="284" width="1" height="30" fill="#121212"/>
<rect x="438" y="293" width="5" height="3" fill="#121212"/>
<rect x="445" y="289" width="1" height="63" fill="#121212"/>
<rect x="443" y="295" width="5" height="7" fill="#121212"/>
<rect x="450" y="301" width="1" height="45" fill="#121212"/>
<rect x="448" y="301" width="5" height="34" fill="#121212"/>
<rect x="456" y="292" width="1" height="76" fill="#2962ff"/>
<rect x="454" y="309" width="5" height="26" fill="#2962ff"/>
<rect x="461" y="282" width="1" height="47" fill="#2962ff"/>
<rect x="459" y="304" width="5" height="6" fill="#2962ff"/>
<rect x="466" y="302" width="1" height="57" fill="#121212"/>
<rect x="464" y="304" width="5" height="45" fill="#121212"/>
<rect x="471" y="311" width="1" height="38" fill="#2962ff"/>
<rect x="469" y="318" width="5" height="31" fill="#2962ff"/>
<rect x="476" y="312" width="1" height="15" fill="#121212"/>
<rect x="474" y="318" width="5" height="2" fill="#121212"/>
<rect x="481" y="319" width="1" height="19" fill="#121212"/>
<rect x="479" y="319" width="5" height="12" fill="#121212"/>
<rect x="486" y="309" width="1" height="23" fill="#2962ff"/>
<rect x="484" y="314" width="5" height="17" fill="#2962ff"/>
<rect x="492" y="294" width="1" height="30" fill="#2962ff"/>
<rect x="490" y="309" width="5" height="6" fill="#2962ff"/>
<rect x="497" y="309" width="1" height="21" fill="#121212"/>
<rect x="495" y="309" width="5" height="15" fill="#121212"/>
<rect x="502" y="303" width="1" height="36" fill="#2962ff"/>
<rect x="500" y="307" width="5" height="17" fill="#2962ff"/>
<rect x="507" y="298" width="1" height="16" fill="#2962ff"/>
<rect x="505" y="298" width="5" height="9" fill="#2962ff"/>
<rect x="512" y="285" width="1" height="41" fill="#121212"/>
<rect x="510" y="298" width="5" height="24" fill="#121212"/>
<rect x="517" y="316" width="1" height="38" fill="#121212"/>
<rect x="515" y="322" width="5" height="31" fill="#121212"/>
<rect x="523" y="341" width="1" height="47" fill="#121212"/>
<rect x="521" y="352" width="5" height="6" fill="#121212"/>
<rect x="528" y="346" width="1" height="52" fill="#2962ff"/>
<rect x="526" y="356" width="5" height="2" fill="#2962ff"/>
<rect x="533" y="317" width="1" height="51" fill="#2962ff"/>
<rect x="531" y="319" width="5" height="37" fill="#2962ff"/>
<rect x="538" y="304" width="1" height="20" fill="#2962ff"/>
<rect x="536" y="309" width="5" height="10" fill="#2962ff"/>
<rect x="543" y="297" width="1" height="19" fill="#2962ff"/>
<rect x="541" y="306" width="5" height="3" fill="#2962ff"/>
<rect x="548" y="303" width="1" height="53" fill="#121212"/>
<rect x="546" y="306" width="5" height="39" fill="#121212"/>
<rect x="553" y="334" width="1" height="78" fill="#121212"/>
<rect x="551" y="344" width="5" height="64" fill="#121212"/>
<rect x="559" y="385" width="1" height="34" fill="#2962ff"/>
<rect x="557" y="386" width="5" height="23" fill="#2962ff"/>
<rect x="564" y="377" width="1" height="48" fill="#121212"/>
<rect x="562" y="386" width="5" height="4" fill="#121212"/>
<rect x="569" y="384" width="1" height="36" fill="#2962ff"/>
<rect x="567" y="389" width="5" height="1" fill="#2962ff"/>
<rect x="574" y="366" width="1" height="24" fill="#2962ff"/>
<rect x="572" y="373" width="5" height="17" fill="#2962ff"/>
<rect x="579" y="343" width="1" height="47" fill="#2962ff"/>
<rect x="577" y="351" width="5" height="23" fill="#2962ff"/>
<rect x="584" y="322" width="1" height="32" fill="#2962ff"/>
<rect x="582" y="333" width="5" height="19" fill="#2962ff"/>
<rect x="590" y="331" width="1" height="24" fill="#121212"/>
<rect x="588" y="333" width="5" height="11" fill="#121212"/>
<rect x="595" y="343" width="1" height="25" fill="#121212"/>
<rect x="593" y="343" width="5" height="25" fill="#121212"/>
<rect x="600" y="360" width="1" height="44" fill="#2962ff"/>
<rect x="598" y="361" width="5" height="7" fill="#2962ff"/>
<rect x="605" y="348" width="1" height="28" fill="#121212"/>
<rect x="603" y="361" width="5" height="1" fill="#121212"/>
<rect x="610" y="350" width="1" height="64" fill="#121212"/>
<rect x="608" y="362" width="5" height="52" fill="#121212"/>
<rect x="615" y="400" width="1" height="58" fill="#121212"/>
<rect x="613" y="414" width="5" height="42" fill="#121212"/>
<rect x="620" y="387" width="1" height="71" fill="#2962ff"/>
<rect x="618" y="388" width="5" height="68" fill="#2962ff"/>
<rect x="626" y="373" width="1" height="25" fill="#2962ff"/>
<rect x="624" y="382" width="5" height="7" fill="#2962ff"/>
<rect x="631" y="371" width="1" height="26" fill="#2962ff"/>
<rect x="629" y="382" width="5" height="1" fill="#2962ff"/>
<rect x="636" y="380" width="1" height="23" fill="#121212"/>
<rect x="634" y="382" width="5" height="7" fill="#121212"/>
<rect x="641" y="377" width="1" height="45" fill="#121212"/>
<rect x="639" y="389" width="5" height="33" fill="#121212"/>
<rect x="646" y="385" width="1" height="196" fill="#121212"/>
<rect x="644" y="421" width="5" height="50" fill="#121212"/>
<rect x="651" y="444" width="1" height="40" fill="#121212"/>
<rect x="649" y="471" width="5" height="6" fill="#121212"/>
<rect x="656" y="453" width="1" height="52" fill="#121212"/>
<rect x="654" y="477" width="5" height="11" fill="#121212"/>
<rect x="662" y="478" width="1" height="75" fill="#121212"/>
<rect x="660" y="488" width="5" height="42" fill="#121212"/>
<rect x="667" y="514" width="1" height="41" fill="#121212"/>
<rect x="665" y="530" width="5" height="14" fill="#121212"/>
<rect x="672" y="501" width="1" height="72" fill="#2962ff"/>
<rect x="670" y="536" width="5" height="8" fill="#2962ff"/>
<rect x="677" y="489" width="1" height="61" fill="#2962ff"/>
<rect x="675" y="515" width="5" height="21" fill="#2962ff"/>
<rect x="682" y="503" width="1" height="32" fill="#2962ff"/>
<rect x="680" y="508" width="5" height="7" fill="#2962ff"/>
<rect x="687" y="500" width="1" height="20" fill="#121212"/>
<rect x="685" y="508" width="5" height="7" fill="#121212"/>
<rect x="693" y="506" width="1" height="20" fill="#2962ff"/>
<rect x="691" y="513" width="5" height="2" fill="#2962ff"/>
<rect x="698" y="513" width="1" height="24" fill="#121212"/>
<rect x="696" y="513" width="5" height="10" fill="#121212"/>
<rect x="703" y="514" width="1" height="20" fill="#2962ff"/>
<rect x="701" y="521" width="5" height="2" fill="#2962ff"/>
<rect x="708" y="512" width="1" height="11" fill="#2962ff"/>
<rect x="706" y="515" width="5" height="7" fill="#2962ff"/>
<rect x="713" y="493" width="1" height="30" fill="#2962ff"/>
<rect x="711" y="506" width="5" height="9" fill="#2962ff"/>
<rect x="718" y="477" width="1" height="29" fill="#2962ff"/>
<rect x="716" y="481" width="5" height="25" fill="#2962ff"/>
<rect x="723" y="469" width="1" height="33" fill="#121212"/>
<rect x="721" y="482" width="5" height="14" fill="#121212"/>
<rect x="729" y="482" width="1" height="14" fill="#2962ff"/>
<rect x="727" y="485" width="5" height="11" fill="#2962ff"/>
<rect x="734" y="466" width="1" height="22" fill="#2962ff"/>
<rect x="732" y="476" width="5" height="9" fill="#2962ff"/>
<rect x="739" y="471" width="1" height="28" fill="#121212"/>
<rect x="737" y="476" width="5" height="6" fill="#121212"/>
<rect x="744" y="472" width="1" height="23" fill="#121212"/>
<rect x="742" y="482" width="5" height="11" fill="#121212"/>
<rect x="749" y="461" width="1" height="49" fill="#2962ff"/>
<rect x="747" y="467" width="5" height="26" fill="#2962ff"/>
<rect x="754" y="453" width="1" height="38" fill="#121212"/>
<rect x="752" y="467" width="5" height="12" fill="#121212"/>
<rect x="760" y="473" width="1" height="25" fill="#121212"/>
<rect x="758" y="479" width="5" height="13" fill="#121212"/>
<rect x="765" y="465" width="1" height="35" fill="#2962ff"/>
<rect x="763" y="471" width="5" height="21" fill="#2962ff"/>
<rect x="770" y="410" width="1" height="62" fill="#2962ff"/>
<rect x="768" y="419" width="5" height="53" fill="#2962ff"/>
<rect x="775" y="406" width="1" height="18" fill="#121212"/>
<rect x="773" y="419" width="5" height="4" fill="#121212"/>
<rect x="780" y="422" width="1" height="22" fill="#121212"/>
<rect x="778" y="422" width="5" height="20" fill="#121212"/>
<rect x="785" y="427" width="1" height="19" fill="#121212"/>
<rect x="783" y="441" width="5" height="5" fill="#121212"/>
<rect x="790" y="442" width="1" height="21" fill="#121212"/>
<rect x="788" y="445" width="5" height="7" fill="#121212"/>
<rect x="796" y="431" width="1" height="35" fill="#2962ff"/>
<rect x="794" y="449" width="5" height="3" fill="#2962ff"/>
<rect x="801" y="419" width="1" height="39" fill="#2962ff"/>
<rect x="799" y="436" width="5" height="14" fill="#2962ff"/>
<rect x="806" y="409" width="1" height="34" fill="#2962ff"/>
<rect x="804" y="419" width="5" height="18" fill="#2962ff"/>
<rect x="811" y="408" width="1" height="28" fill="#121212"/>
<rect x="809" y="419" width="5" height="16" fill="#121212"/>
<rect x="816" y="421" width="1" height="16" fill="#2962ff"/>
<rect x="814" y="426" width="5" height="9" fill="#2962ff"/>
<rect x="821" y="424" width="1" height="21" fill="#121212"/>
<rect x="819" y="426" width="5" height="15" fill="#121212"/>
<rect x="827" y="425" width="1" height="27" fill="#2962ff"/>
<rect x="825" y="434" width="5" height="7" fill="#2962ff"/>
<rect x="832" y="379" width="1" height="56" fill="#2962ff"/>
<rect x="830" y="385" width="5" height="50" fill="#2962ff"/>
<rect x="837" y="385" width="1" height="11" fill="#121212"/>
<rect x="835" y="385" width="5" height="4" fill="#121212"/>
<rect x="842" y="367" width="1" height="31" fill="#2962ff"/>
<rect x="840" y="385" width="5" height="4" fill="#2962ff"/>
<rect x="847" y="375" width="1" height="17" fill="#2962ff"/>
<rect x="845" y="385" width="5" height="1" fill="#2962ff"/>
<rect x="852" y="380" width="1" height="12" fill="#121212"/>
<rect x="850" y="385" width="5" height="3" fill="#121212"/>
<rect x="857" y="387" width="1" height="20" fill="#121212"/>
<rect x="855" y="387" width="5" height="9" fill="#121212"/>
<rect x="863" y="382" width="1" height="16" fill="#2962ff"/>
<rect x="861" y="385" width="5" height="11" fill="#2962ff"/>
<rect x="868" y="380" width="1" height="18" fill="#121212"/>
<rect x="866" y="385" width="5" height="9" fill="#121212"/>
<rect x="873" y="389" width="1" height="14" fill="#121212"/>
<rect x="871" y="393" width="5" height="3" fill="#121212"/>
<rect x="878" y="387" width="1" height="13" fill="#121212"/>
<rect x="876" y="396" width="5" height="4" fill="#121212"/>
<rect x="883" y="364" width="1" height="36" fill="#2962ff"/>
<rect x="881" y="385" width="5" height="15" fill="#2962ff"/>
<rect x="888" y="355" width="1" height="33" fill="#2962ff"/>
<rect x="886" y="366" width="5" height="20" fill="#2962ff"/>
<rect x="894" y="366" width="1" height="29" fill="#121212"/>
<rect x="892" y="366" width="5" height="12" fill="#121212"/>
<rect x="899" y="373" width="1" height="17" fill="#121212"/>
<rect x="897" y="377" width="5" height="9" fill="#121212"/>
<rect x="904" y="376" width="1" height="15" fill="#121212"/>
<rect x="902" y="386" width="5" height="5" fill="#121212"/>
<rect x="909" y="380" width="1" height="24" fill="#121212"/>
<rect x="907" y="390" width="5" height="8" fill="#121212"/>
<rect x="914" y="395" width="1" height="12" fill="#121212"/>
<rect x="912" y="398" width="5" height="2" fill="#121212"/>
<rect x="919" y="394" width="1" height="13" fill="#2962ff"/>
<rect x="917" y="397" width="5" height="3" fill="#2962ff"/>
<rect x="924" y="395" width="1" height="23" fill="#121212"/>
<rect x="922" y="397" width="5" height="10" fill="#121212"/>
<rect x="930" y="401" width="1" height="7" fill="#2962ff"/>
<rect x="928" y="405" width="5" height="1" fill="#2962ff"/>
<rect x="935" y="395" width="1" height="17" fill="#2962ff"/>
<rect x="933" y="399" width="5" height="7" fill="#2962ff"/>
<rect x="940" y="396" width="1" height="11" fill="#2962ff"/>
<rect x="938" y="398" width="5" height="2" fill="#2962ff"/>
<rect x="945" y="392" width="1" height="8" fill="#121212"/>
<rect x="943" y="398" width="5" height="1" fill="#121212"/>
<rect x="950" y="376" width="1" height="24" fill="#2962ff"/>
<rect x="948" y="387" width="5" height="13" fill="#2962ff"/>
<rect x="955" y="377" width="1" height="11" fill="#2962ff"/>
<rect x="953" y="384" width="5" height="4" fill="#2962ff"/>
<rect x="961" y="381" width="1" height="23" fill="#121212"/>
<rect x="959" y="384" width="5" height="20" fill="#121212"/>
<rect x="966" y="401" width="1" height="86" fill="#121212"/>
<rect x="964" y="404" width="5" height="78" fill="#121212"/>
<rect x="971" y="472" width="1" height="18" fill="#2962ff"/>
<rect x="969" y="474" width="5" height="8" fill="#2962ff"/>
<rect x="976" y="468" width="1" height="11" fill="#121212"/>
<rect x="974" y="473" width="5" height="1" fill="#121212"/>
<rect x="981" y="475" width="1" height="56" fill="#121212"/>
<rect x="979" y="475" width="5" height="44" fill="#121212"/>
<rect x="986" y="512" width="1" height="18" fill="#121212"/>
<rect x="984" y="518" width="5" height="3" fill="#121212"/>
<rect x="991" y="484" width="1" height="37" fill="#2962ff"/>
<rect x="989" y="493" width="5" height="28" fill="#2962ff"/>
<rect x="997" y="481" width="1" height="19" fill="#2962ff"/>
<rect x="995" y="491" width="5" height="3" fill="#2962ff"/>
<rect x="1002" y="485" width="1" height="8" fill="#2962ff"/>
<rect x="1000" y="490" width="5" height="1" fill="#2962ff"/>
<rect x="1007" y="477" width="1" height="24" fill="#2962ff"/>
<rect x="1005" y="481" width="5" height="9" fill="#2962ff"/>
<rect x="1012" y="389" width="1" height="96" fill="#2962ff"/>
<rect x="1010" y="397" width="5" height="85" fill="#2962ff"/>
<rect x="1017" y="385" width="1" height="21" fill="#2962ff"/>
<rect x="1015" y="393" width="5" height="4" fill="#2962ff"/>
<rect x="1022" y="390" width="1" height="23" fill="#121212"/>
<rect x="1020" y="393" width="5" height="10" fill="#121212"/>
<rect x="1028" y="378" width="1" height="29" fill="#2962ff"/>
<rect x="1026" y="386" width="5" height="17" fill="#2962ff"/>
<rect x="1033" y="361" width="1" height="25" fill="#2962ff"/>
<rect x="1031" y="374" width="5" height="12" fill="#2962ff"/>
<rect x="1038" y="363" width="1" height="17" fill="#2962ff"/>
<rect x="1036" y="366" width="5" height="9" fill="#2962ff"/>
<rect x="1043" y="333" width="1" height="53" fill="#2962ff"/>
<rect x="1041" y="360" width="5" height="7" fill="#2962ff"/>
<rect x="1048" y="336" width="1" height="35" fill="#2962ff"/>
<rect x="1046" y="339" width="5" height="21" fill="#2962ff"/>
<g stroke="#131722" stroke-width="1.25" fill="none" stroke-linecap="round">
<line x1="419.3" y1="33.5" x2="1145.6" y2="307.2"/>
<line x1="672.3" y1="578.2" x2="949.6" y2="345.3"/>
<line x1="888.4" y1="357.3" x2="995.9" y2="357.3"/>
<line x1="847.4" y1="407.1" x2="975.9" y2="409.6"/>
</g>
<line x1="13" y1="339.5" x2="1374" y2="339.5" stroke="#2962ff" stroke-width="1" stroke-dasharray="1,2"/>
</g>
<path d="M1121.5,280 L1106.9,296.4 L1131.5,280" fill="#ffffff" stroke="#2962ff" stroke-width="2.6" stroke-linejoin="miter"/>
<rect x="1116" y="249.5" width="100" height="30.5" rx="5" ry="5" fill="#ffffff" stroke="#2962ff" stroke-width="2.2"/>
<rect x="1122.5" y="278" width="9.0" height="3" fill="#ffffff"/>
<circle cx="1104.9" cy="298.4" r="2.9" fill="#2962ff"/>
<text x="1166.3" y="269.75" font-size="18" font-weight="bold" fill="#2962ff" text-anchor="middle" letter-spacing="0.55">3,220.12</text>
<path d="M1118,450 L1101.4,467.1 L1126.5,450" fill="#ffffff" stroke="#2962ff" stroke-width="2.6" stroke-linejoin="miter"/>
<rect x="1111" y="420.5" width="99.5" height="29.5" rx="5" ry="5" fill="#ffffff" stroke="#2962ff" stroke-width="2.2"/>
<rect x="1119" y="448" width="7.5" height="3" fill="#ffffff"/>
<circle cx="1099.4" cy="469.1" r="2.9" fill="#2962ff"/>
<text x="1161.05" y="440.25" font-size="18" font-weight="bold" fill="#2962ff" text-anchor="middle" letter-spacing="0.55">2,850.68</text>
<path d="M1104,550 L1086.2,566.7 L1111,550" fill="#ffffff" stroke="#2962ff" stroke-width="2.6" stroke-linejoin="miter"/>
<rect x="1095" y="520" width="99.5" height="30" rx="5" ry="5" fill="#ffffff" stroke="#2962ff" stroke-width="2.2"/>
<rect x="1105" y="548" width="6" height="3" fill="#ffffff"/>
<circle cx="1084.2" cy="568.7" r="2.9" fill="#2962ff"/>
<text x="1145.05" y="540.0" font-size="18" font-weight="bold" fill="#2962ff" text-anchor="middle" letter-spacing="0.55">2,635.00</text>
<text x="1538.4" y="81.0" font-size="17.3" fill="#131722" stroke="#131722" stroke-width="0.35" text-anchor="end">3,700.00</text>
<text x="1538.4" y="127.2" font-size="17.3" fill="#131722" stroke="#131722" stroke-width="0.35" text-anchor="end">3,600.00</text>
<text x="1538.4" y="173.3" font-size="17.3" fill="#131722" stroke="#131722" stroke-width="0.35" text-anchor="end">3,500.00</text>
<text x="1538.4" y="219.5" font-size="17.3" fill="#131722" stroke="#131722" stroke-width="0.35" text-anchor="end">3,400.00</text>
<text x="1538.4" y="265.7" font-size="17.3" fill="#131722" stroke="#131722" stroke-width="0.35" text-anchor="end">3,300.00</text>
<text x="1538.4" y="311.9" font-size="17.3" fill="#131722" stroke="#131722" stroke-width="0.35" text-anchor="end">3,200.00</text>
<text x="1538.4" y="404.2" font-size="17.3" fill="#131722" stroke="#131722" stroke-width="0.35" text-anchor="end">3,000.00</text>
<text x="1538.4" y="496.6" font-size="17.3" fill="#131722" stroke="#131722" stroke-width="0.35" text-anchor="end">2,800.00</text>
<text x="1538.4" y="542.7" font-size="17.3" fill="#131722" stroke="#131722" stroke-width="0.35" text-anchor="end">2,700.00</text>
<text x="1538.4" y="588.9" font-size="17.3" fill="#131722" stroke="#131722" stroke-width="0.35" text-anchor="end">2,600.00</text>
<text x="1538.4" y="635.1" font-size="17.3" fill="#131722" stroke="#131722" stroke-width="0.35" text-anchor="end">2,500.00</text>
<rect x="1374" y="327.3" width="84" height="24.3" rx="2.5" fill="#2962ff"/>
<text x="1416.2" y="345.8" font-size="17.5" fill="#ffffff" stroke="#ffffff" stroke-width="0.3" text-anchor="middle" textLength="70.5" lengthAdjust="spacingAndGlyphs">ETHUSDT</text>
<path d="M1459,327.3 H1543 a3,3 0 0 1 3,3 V368.5 a3,3 0 0 1 -3,3 H1459 Z" fill="#2962ff"/>
<text x="1538.4" y="345.2" font-size="17.3" fill="#ffffff" stroke="#ffffff" stroke-width="0.35" text-anchor="end">3,131.99</text>
<text x="1538.4" y="364.7" font-size="17.3" fill="#c9d8ff" stroke="#c9d8ff" stroke-width="0.35" text-anchor="end">01:28:44</text>
<path d="M1459,413 H1543 a3,3 0 0 1 3,3 V436.8 H1459 Z" fill="#a5d6a7"/>
<text x="1538.4" y="431.2" font-size="17.3" fill="#131722" stroke="#131722" stroke-width="0.35" text-anchor="end">2,947.40</text>
<path d="M1459,436.8 H1546 V458.8 a3,3 0 0 1 -3,3 H1459 Z" fill="#ef9a9a"/>
<text x="1538.4" y="455.6" font-size="17.3" fill="#131722" stroke="#131722" stroke-width="0.35" text-anchor="end">2,930.86</text>
<rect x="14" y="655.5" width="1535" height="1.3" fill="#e0e3eb"/>
<rect x="14" y="667" width="1444" height="63" fill="#f0ecfa"/>
<g stroke-width="1.2" fill="none">
<line x1="13" y1="667.5" x2="1458" y2="667.5" stroke="#5d606b" stroke-width="1" stroke-dasharray="5,6"/>
<line x1="13" y1="698.5" x2="1458" y2="698.5" stroke="#a3a6af" stroke-width="1" stroke-dasharray="5,6"/>
<line x1="13" y1="729.5" x2="1458" y2="729.5" stroke="#5d606b" stroke-width="1" stroke-dasharray="5,6"/>
</g>
<polygon points="113.2,729.5 113.2,729.5 115.5,734.6 115.5,734.6 119.3,729.5 119.3,729.5" fill="url(#osg)"/>
<polygon points="135.0,729.5 135.0,729.5 136.5,732.0 136.5,732.0 139.3,729.5 139.3,729.5" fill="url(#osg)"/>
<polygon points="145.8,729.5 145.8,729.5 146.5,729.9 146.5,729.9 151.5,742.7 151.5,742.7 157.5,734.6 157.5,734.6 162.2,729.5 162.2,729.5" fill="url(#osg)"/>
<polygon points="166.4,729.5 166.4,729.5 167.5,729.6 167.5,729.6 167.7,729.5 167.7,729.5" fill="url(#osg)"/>
<polygon points="658.9,729.5 658.9,729.5 662.5,733.2 662.5,733.2 667.5,734.1 667.5,734.1 672.5,730.6 672.5,730.6 673.2,729.5 673.2,729.5" fill="url(#osg)"/>
<polygon points="966.4,729.5 966.4,729.5 966.5,729.8 966.5,729.8 967.0,729.5 967.0,729.5" fill="url(#osg)"/>
<polygon points="976.8,729.5 976.8,729.5 981.5,737.4 981.5,737.4 986.5,737.7 986.5,737.7 989.3,729.5 989.3,729.5" fill="url(#osg)"/>
<polyline points="13.0,709.9 18.5,705.4 23.5,706.6 28.5,704.2 33.5,708.2 38.5,705.8 43.5,705.6 48.5,702.2 54.5,700.4 59.5,702.3 64.5,703.2 69.5,700.7 74.5,696.6 79.5,700.2 85.5,707.0 90.5,703.2 95.5,701.1 100.5,720.4 105.5,723.1 110.5,723.6 115.5,734.6 121.5,726.6 126.5,727.3 131.5,723.6 136.5,732.0 141.5,727.4 146.5,729.9 151.5,742.7 157.5,734.6 162.5,729.2 167.5,729.6 172.5,727.4 177.5,717.4 182.5,712.1 188.5,714.0 193.5,713.4 198.5,717.1 203.5,715.7 208.5,722.8 213.5,719.2 218.5,719.9 224.5,715.8 229.5,714.8 234.5,721.7 239.5,716.3 244.5,698.0 249.5,699.1 255.5,696.5 260.5,698.2 265.5,702.8 270.5,706.2 275.5,704.0 280.5,702.5 285.5,705.5 291.5,698.3 296.5,694.6 301.5,684.0 306.5,678.2 311.5,677.4 316.5,673.4 322.5,676.6 327.5,679.3 332.5,691.8 337.5,687.3 342.5,685.4 347.5,683.2 352.5,691.3 358.5,689.1 363.5,701.8 368.5,705.2 373.5,709.6 378.5,706.4 383.5,706.5 389.5,693.6 394.5,705.3 399.5,707.4 404.5,706.0 409.5,700.6 414.5,690.4 419.5,695.2 425.5,710.9 430.5,722.4 435.5,718.6 440.5,719.1 445.5,720.2 450.5,725.2 456.5,717.6 461.5,718.1 466.5,722.4 471.5,714.7 476.5,715.3 481.5,717.4 486.5,712.5 492.5,710.8 497.5,712.7 502.5,708.1 507.5,706.7 512.5,712.3 517.5,718.4 523.5,719.8 528.5,717.7 533.5,705.0 538.5,701.9 543.5,701.7 548.5,712.9 553.5,723.8 559.5,717.5 564.5,717.9 569.5,717.5 574.5,711.8 579.5,704.2 584.5,699.4 590.5,703.2 595.5,707.9 600.5,706.3 605.5,707.3 610.5,719.1 615.5,726.2 620.5,706.7 626.5,704.6 631.5,705.0 636.5,708.2 641.5,715.4 646.5,723.2 651.5,724.6 656.5,727.0 662.5,733.2 667.5,734.1 672.5,730.6 677.5,722.8 682.5,721.3 687.5,722.4 693.5,721.8 698.5,723.5 703.5,722.6 708.5,719.8 713.5,715.1 718.5,705.4 723.5,709.2 729.5,704.8 734.5,701.7 739.5,703.8 744.5,707.0 749.5,696.8 754.5,701.0 760.5,703.5 765.5,693.5 770.5,681.0 775.5,682.8 780.5,689.3 785.5,691.2 790.5,693.6 796.5,691.3 801.5,686.2 806.5,684.3 811.5,688.3 816.5,687.1 821.5,692.6 827.5,686.3 832.5,674.8 837.5,676.1 842.5,675.0 847.5,675.7 852.5,677.6 857.5,680.8 863.5,677.9 868.5,682.6 873.5,684.6 878.5,684.6 883.5,678.4 888.5,673.5 894.5,680.7 899.5,685.1 904.5,688.3 909.5,692.7 914.5,694.0 919.5,692.8 924.5,697.4 930.5,696.5 935.5,693.4 940.5,692.7 945.5,692.6 950.5,685.3 955.5,684.3 961.5,705.2 966.5,729.8 971.5,726.9 976.5,729.0 981.5,737.4 986.5,737.7 991.5,723.0 997.5,720.5 1002.5,719.4 1007.5,709.7 1012.5,682.4 1017.5,681.6 1022.5,684.2 1028.5,679.8 1033.5,676.5 1038.5,674.6 1043.5,672.7 1048.5,668.2" fill="none" stroke="#7e57c2" stroke-width="1.4" stroke-linejoin="round"/>
<text x="23.5" y="682.5" font-size="15" fill="#131722" textLength="94.5" lengthAdjust="spacingAndGlyphs">RSI (14, close)</text>
<text x="127.3" y="682.5" font-size="15" fill="#7e57c2">69.20</text>
<path d="M1459,657.2 H1517.6 a3,3 0 0 1 3,3 V678.8 a3,3 0 0 1 -3,3 H1459 Z" fill="#7e57c2"/>
<text x="1513" y="675.8" font-size="17.3" fill="#ffffff" stroke="#ffffff" stroke-width="0.35" text-anchor="end">69.20</text>
<text x="1470.8" y="719.6" font-size="17.3" fill="#131722" stroke="#131722" stroke-width="0.35">40.00</text>
<text x="43.6" y="779" font-size="16" font-weight="bold" fill="#131722" stroke="#131722" stroke-width="0" text-anchor="middle">Nov</text>
<text x="141.2" y="779" font-size="17" fill="#131722" stroke="#131722" stroke-width="0.3" text-anchor="middle">4</text>
<text x="234.1" y="779" font-size="17" fill="#131722" stroke="#131722" stroke-width="0.3" text-anchor="middle">7</text>
<text x="326.9" y="779" font-size="17" fill="#131722" stroke="#131722" stroke-width="0.3" text-anchor="middle">10</text>
<text x="419.8" y="779" font-size="17" fill="#131722" stroke="#131722" stroke-width="0.3" text-anchor="middle">13</text>
<text x="512.4" y="779" font-size="17" fill="#131722" stroke="#131722" stroke-width="0.3" text-anchor="middle">16</text>
<text x="605" y="779" font-size="17" fill="#131722" stroke="#131722" stroke-width="0.3" text-anchor="middle">19</text>
<text x="697.5" y="779" font-size="17" fill="#131722" stroke="#131722" stroke-width="0.3" text-anchor="middle">22</text>
<text x="790.3" y="779" font-size="17" fill="#131722" stroke="#131722" stroke-width="0.3" text-anchor="middle">25</text>
<text x="883.4" y="779" font-size="17" fill="#131722" stroke="#131722" stroke-width="0.3" text-anchor="middle">28</text>
<text x="976.1" y="779" font-size="16" font-weight="bold" fill="#131722" stroke="#131722" stroke-width="0" text-anchor="middle">Dec</text>
<text x="1068.8" y="779" font-size="17" fill="#131722" stroke="#131722" stroke-width="0.3" text-anchor="middle">4</text>
<text x="1162.2" y="779" font-size="17" fill="#131722" stroke="#131722" stroke-width="0.3" text-anchor="middle">7</text>
<text x="1254.4" y="779" font-size="17" fill="#131722" stroke="#131722" stroke-width="0.3" text-anchor="middle">10</text>
<text x="1347" y="779" font-size="17" fill="#131722" stroke="#131722" stroke-width="0.3" text-anchor="middle">13</text>
<text x="1440.2" y="779" font-size="17" fill="#131722" stroke="#131722" stroke-width="0.3" text-anchor="middle">16</text>
<g>
<path d="M1060.34,635.32 A12.4,12.4 0 1 1 1052.43,627.51" fill="none" stroke="#9c27b0" stroke-width="1.8"/>
<circle cx="1057" cy="630.7" r="3.1" fill="#f23645"/>
<path d="M1051.2,633.7 L1044.5,639.7 L1052.4,638.8 L1045.5,645.1" fill="none" stroke="#9c27b0" stroke-width="1.9" stroke-linecap="round" stroke-linejoin="round"/>
</g>
<g fill="#131313">
<path d="M15.4,820.4 H30.3 V838.8 H23.1 V827.6 H15.4 Z"/>
<circle cx="36.7" cy="824.1" r="3.7"/>
<path d="M44.5,820.4 H52.9 L45.7,838.8 H36.9 Z"/>
</g>
<g fill="#131313">
<rect x="61.9" y="820.3" width="13.8" height="3.8"/><rect x="66.9" y="820.3" width="3.8" height="18.8"/>
<rect x="75.7" y="825" width="3.8" height="14.1"/>
<rect x="94.7" y="825" width="3.6" height="14.1"/>
<rect x="111.1" y="820.3" width="3.7" height="18.8"/>
<rect x="117" y="825" width="3.6" height="14.1"/><circle cx="118.8" cy="821.5" r="2"/>
<rect x="123.1" y="825" width="3.7" height="14.1"/>
<rect x="148.6" y="825" width="3.6" height="14.6"/>
<polygon points="151.7,820.3 156.4,820.3 161.5,834.2 166.4,820.3 170.9,820.3 163.9,839.1 159.2,839.1"/>
<rect x="172.2" y="825" width="3.7" height="14.1"/><circle cx="174" cy="821.5" r="2"/>
<polygon points="192.2,825 196,825 198.8,834.3 201.4,825.8 204.3,825.8 206.9,834.3 209.5,825 213.3,825 209,839.1 205.3,839.1 202.85,830.8 200.4,839.1 196.6,839.1"/>
</g>
<g fill="none" stroke="#131313" stroke-width="3.6">
<path d="M77.6,833.5 C77.6,828.5 79.8,826.9 83.8,826.9"/>
<circle cx="91.2" cy="832.1" r="5.3"/>
<circle cx="107.8" cy="832.1" r="5.3"/>
<path d="M124.95,839.1 V832.3 C124.95,828.4 127,826.9 129.6,826.9 C132.3,826.9 134.1,828.6 134.1,832.3 V839.1"/>
<circle cx="145.1" cy="832.1" r="5.3"/>
<path d="M150.4,838.5 C150.4,842 148.6,843.2 145.3,843.2 C142.8,843.2 141,842.6 139.6,841.3"/>
<path d="M190.5,832.1 A5.3,5.3 0 1 0 189.4,835.9" stroke-width="3.5"/>
<path d="M180.5,832.3 H192" stroke-width="2.8"/>
</g>
</svg></body></html>
